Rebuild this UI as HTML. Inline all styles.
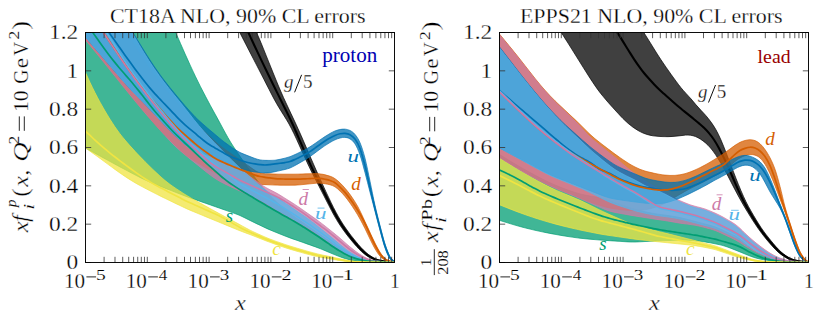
<!DOCTYPE html>
<html><head><meta charset="utf-8"><title>PDF comparison</title>
<style>html,body{margin:0;padding:0;background:#fff;overflow:hidden}svg{display:block}text{font-family:"Liberation Serif",serif}.thin text{stroke:#fff;stroke-width:0.28px}.thin text[fill]{stroke:none}</style></head>
<body>
<svg width="831" height="318" viewBox="0 0 831 318" font-family="'Liberation Serif', serif" fill="#000">
<rect width="831" height="318" fill="#fff"/>
<defs><clipPath id="cl"><rect x="85.5" y="32.5" width="309" height="230"/></clipPath><clipPath id="cr"><rect x="499.5" y="32.5" width="309" height="230"/></clipPath></defs>
<g clip-path="url(#cl)"><path d="M251.00 21.01C251.83 22.71 254.33 27.58 256.00 31.21C257.67 34.84 259.33 38.78 261.00 42.77C262.67 46.76 264.33 51.00 266.00 55.14C267.67 59.27 269.33 63.44 271.00 67.57C272.67 71.70 274.33 75.88 276.00 79.93C277.67 83.98 279.33 88.01 281.00 91.85C282.67 95.69 284.33 99.32 286.00 102.94C287.67 106.57 289.33 110.08 291.00 113.62C292.67 117.16 294.33 120.58 296.00 124.19C297.67 127.80 299.33 131.53 301.00 135.30C302.67 139.08 304.33 142.99 306.00 146.84C307.67 150.69 309.33 154.58 311.00 158.41C312.67 162.25 314.33 166.10 316.00 169.86C317.67 173.62 319.33 177.32 321.00 180.99C322.67 184.66 324.33 188.31 326.00 191.88C327.67 195.44 329.33 199.00 331.00 202.40C332.67 205.81 334.33 209.21 336.00 212.31C337.67 215.42 339.33 218.31 341.00 221.03C342.67 223.75 344.33 226.22 346.00 228.62C347.67 231.02 349.33 233.25 351.00 235.43C352.67 237.61 354.33 239.67 356.00 241.68C357.67 243.69 359.33 245.70 361.00 247.49C362.67 249.29 364.33 251.00 366.00 252.46C367.67 253.92 369.33 255.18 371.00 256.25C372.67 257.33 374.33 258.22 376.00 258.92C377.67 259.61 379.33 260.06 381.00 260.44C382.67 260.82 384.33 261.00 386.00 261.22C387.67 261.45 389.50 261.61 391.00 261.77C392.50 261.93 394.33 262.13 395.00 262.20L395.00 262.60C394.83 262.59 395.00 262.60 394.00 262.51C393.00 262.43 390.67 262.23 389.00 262.09C387.33 261.94 385.67 261.83 384.00 261.64C382.33 261.45 380.67 261.28 379.00 260.95C377.33 260.61 375.67 260.25 374.00 259.62C372.33 258.99 370.67 258.16 369.00 257.17C367.33 256.19 365.67 255.04 364.00 253.70C362.33 252.36 360.67 250.79 359.00 249.11C357.33 247.43 355.67 245.53 354.00 243.61C352.33 241.68 350.67 239.66 349.00 237.55C347.33 235.44 345.67 233.27 344.00 230.95C342.33 228.63 340.67 226.24 339.00 223.63C337.33 221.02 335.67 218.24 334.00 215.27C332.33 212.30 330.67 209.01 329.00 205.80C327.33 202.58 325.67 199.22 324.00 195.97C322.33 192.71 320.67 189.49 319.00 186.27C317.33 183.05 315.67 179.93 314.00 176.64C312.33 173.35 310.67 170.02 309.00 166.53C307.33 163.04 305.67 159.33 304.00 155.70C302.33 152.06 300.67 148.35 299.00 144.70C297.33 141.05 295.67 137.26 294.00 133.81C292.33 130.36 290.67 127.01 289.00 123.99C287.33 120.97 285.67 118.42 284.00 115.70C282.33 112.98 280.67 110.47 279.00 107.67C277.33 104.87 275.67 101.97 274.00 98.91C272.33 95.84 270.67 92.50 269.00 89.26C267.33 86.03 265.67 82.74 264.00 79.50C262.33 76.26 260.67 73.03 259.00 69.80C257.33 66.57 255.67 63.34 254.00 60.11C252.33 56.89 250.67 53.66 249.00 50.43C247.33 47.20 245.67 43.99 244.00 40.74C242.33 37.49 240.67 34.24 239.00 30.95C237.33 27.66 234.83 22.66 234.00 21.00Z" fill="#000000" fill-opacity="0.75" stroke="#000000" stroke-opacity="0.75" stroke-width="0.9" stroke-linejoin="round"/>
<path d="M243.00 21.00C243.83 22.79 246.33 28.14 248.00 31.72C249.67 35.30 251.33 38.88 253.00 42.46C254.67 46.03 256.33 49.63 258.00 53.16C259.67 56.69 261.33 60.19 263.00 63.65C264.67 67.12 266.33 70.54 268.00 73.97C269.67 77.39 271.33 80.81 273.00 84.22C274.67 87.62 276.33 91.02 278.00 94.39C279.67 97.76 281.33 101.11 283.00 104.46C284.67 107.81 286.33 111.07 288.00 114.48C289.67 117.90 291.33 121.34 293.00 124.98C294.67 128.61 296.33 132.50 298.00 136.32C299.67 140.13 301.33 144.07 303.00 147.89C304.67 151.71 306.33 155.52 308.00 159.23C309.67 162.94 311.33 166.64 313.00 170.15C314.67 173.65 316.33 176.93 318.00 180.26C319.67 183.58 321.33 186.79 323.00 190.10C324.67 193.41 326.33 196.80 328.00 200.12C329.67 203.44 331.33 206.89 333.00 210.05C334.67 213.21 336.33 216.26 338.00 219.08C339.67 221.89 341.33 224.45 343.00 226.92C344.67 229.39 346.33 231.67 348.00 233.89C349.67 236.11 351.33 238.21 353.00 240.25C354.67 242.29 356.33 244.27 358.00 246.12C359.67 247.96 361.33 249.79 363.00 251.33C364.67 252.87 366.33 254.19 368.00 255.37C369.67 256.54 371.33 257.59 373.00 258.40C374.67 259.21 376.33 259.75 378.00 260.21C379.67 260.68 381.33 260.93 383.00 261.19C384.67 261.44 386.33 261.56 388.00 261.73C389.67 261.90 391.83 262.10 393.00 262.21C394.17 262.32 394.67 262.37 395.00 262.40" fill="none" stroke="#000000" stroke-width="2.10" stroke-linejoin="round" stroke-linecap="butt"/>
<path d="M165.50 10.01C166.33 11.85 168.83 17.34 170.50 21.02C172.17 24.71 173.83 28.38 175.50 32.12C177.17 35.86 178.83 39.68 180.50 43.47C182.17 47.26 183.83 51.13 185.50 54.87C187.17 58.60 188.83 62.27 190.50 65.88C192.17 69.49 193.83 73.09 195.50 76.55C197.17 80.02 198.83 83.39 200.50 86.69C202.17 89.98 203.83 93.16 205.50 96.34C207.17 99.52 208.83 102.67 210.50 105.75C212.17 108.83 213.83 111.80 215.50 114.84C217.17 117.88 218.83 120.93 220.50 124.00C222.17 127.08 223.83 130.30 225.50 133.29C227.17 136.29 228.83 139.23 230.50 141.97C232.17 144.72 233.83 147.21 235.50 149.74C237.17 152.26 238.83 154.70 240.50 157.12C242.17 159.54 243.83 161.88 245.50 164.25C247.17 166.61 248.83 168.98 250.50 171.32C252.17 173.67 253.83 176.09 255.50 178.32C257.17 180.54 258.83 182.67 260.50 184.68C262.17 186.69 263.83 188.50 265.50 190.38C267.17 192.26 268.83 194.15 270.50 195.93C272.17 197.72 273.83 199.49 275.50 201.09C277.17 202.69 278.83 204.08 280.50 205.51C282.17 206.94 283.83 208.28 285.50 209.64C287.17 211.01 288.83 212.39 290.50 213.68C292.17 214.97 293.83 216.18 295.50 217.38C297.17 218.57 298.83 219.69 300.50 220.84C302.17 222.00 303.83 223.13 305.50 224.29C307.17 225.44 308.83 226.61 310.50 227.77C312.17 228.94 313.83 230.12 315.50 231.29C317.17 232.47 318.83 233.65 320.50 234.82C322.17 236.00 323.83 237.18 325.50 238.37C327.17 239.56 328.83 240.76 330.50 241.95C332.17 243.15 333.83 244.37 335.50 245.53C337.17 246.69 338.83 247.87 340.50 248.90C342.17 249.93 343.83 250.83 345.50 251.72C347.17 252.61 348.83 253.43 350.50 254.24C352.17 255.06 353.83 255.91 355.50 256.61C357.17 257.32 358.83 257.92 360.50 258.48C362.17 259.04 363.83 259.53 365.50 259.96C367.17 260.39 368.83 260.81 370.50 261.07C372.17 261.34 373.83 261.43 375.50 261.55C377.17 261.67 378.83 261.72 380.50 261.80C382.17 261.89 383.83 261.96 385.50 262.04C387.17 262.12 389.00 262.21 390.50 262.28C392.00 262.36 393.83 262.44 394.50 262.48L395.00 262.60C394.17 262.58 391.67 262.52 390.00 262.49C388.33 262.45 386.67 262.41 385.00 262.37C383.33 262.33 381.67 262.30 380.00 262.26C378.33 262.22 376.67 262.18 375.00 262.14C373.33 262.10 371.67 262.07 370.00 262.03C368.33 261.99 366.67 261.97 365.00 261.90C363.33 261.83 361.67 261.76 360.00 261.59C358.33 261.42 356.67 261.17 355.00 260.89C353.33 260.60 351.67 260.29 350.00 259.90C348.33 259.51 346.67 259.04 345.00 258.53C343.33 258.01 341.67 257.42 340.00 256.81C338.33 256.19 336.67 255.52 335.00 254.84C333.33 254.17 331.67 253.45 330.00 252.75C328.33 252.05 326.67 251.33 325.00 250.63C323.33 249.94 321.67 249.23 320.00 248.58C318.33 247.93 316.67 247.32 315.00 246.71C313.33 246.10 311.67 245.51 310.00 244.92C308.33 244.33 306.67 243.73 305.00 243.15C303.33 242.56 301.67 241.98 300.00 241.40C298.33 240.81 296.67 240.23 295.00 239.65C293.33 239.06 291.67 238.49 290.00 237.88C288.33 237.27 286.67 236.64 285.00 235.99C283.33 235.34 281.67 234.66 280.00 233.99C278.33 233.32 276.67 232.65 275.00 231.96C273.33 231.28 271.67 230.61 270.00 229.89C268.33 229.17 266.67 228.40 265.00 227.63C263.33 226.86 261.67 226.05 260.00 225.26C258.33 224.47 256.67 223.68 255.00 222.88C253.33 222.07 251.67 221.27 250.00 220.44C248.33 219.62 246.67 218.73 245.00 217.91C243.33 217.09 241.67 216.25 240.00 215.52C238.33 214.80 236.67 214.19 235.00 213.56C233.33 212.94 231.67 212.39 230.00 211.80C228.33 211.21 226.67 210.63 225.00 210.05C223.33 209.47 221.67 208.88 220.00 208.30C218.33 207.72 216.67 207.13 215.00 206.55C213.33 205.97 211.67 205.38 210.00 204.80C208.33 204.22 206.67 203.63 205.00 203.05C203.33 202.47 201.67 201.88 200.00 201.30C198.33 200.72 196.67 200.13 195.00 199.55C193.33 198.97 191.67 198.39 190.00 197.79C188.33 197.19 186.67 196.59 185.00 195.97C183.33 195.34 181.67 194.69 180.00 194.04C178.33 193.39 176.67 192.73 175.00 192.08C173.33 191.43 171.67 190.77 170.00 190.12C168.33 189.47 166.67 188.81 165.00 188.16C163.33 187.50 161.67 186.85 160.00 186.19C158.33 185.53 156.67 184.87 155.00 184.19C153.33 183.51 151.67 182.83 150.00 182.11C148.33 181.39 146.67 180.65 145.00 179.87C143.33 179.09 141.67 178.26 140.00 177.43C138.33 176.60 136.67 175.73 135.00 174.86C133.33 173.99 131.67 173.11 130.00 172.23C128.33 171.35 126.67 170.47 125.00 169.58C123.33 168.70 121.67 167.81 120.00 166.91C118.33 166.02 116.67 165.12 115.00 164.22C113.33 163.32 111.67 162.41 110.00 161.49C108.33 160.58 106.67 159.66 105.00 158.75C103.33 157.83 101.67 156.91 100.00 155.99C98.33 155.08 96.67 154.16 95.00 153.24C93.33 152.32 91.67 151.40 90.00 150.49C88.33 149.57 86.67 148.66 85.00 147.74C83.33 146.83 80.83 145.46 80.00 145.00L80.00 10.00Z" fill="#009E73" fill-opacity="0.75" stroke="#009E73" stroke-opacity="0.75" stroke-width="0.9" stroke-linejoin="round"/>
<path d="M80.00 60.24C80.83 62.11 83.33 67.77 85.00 71.47C86.67 75.16 88.33 78.87 90.00 82.41C91.67 85.94 93.33 89.39 95.00 92.68C96.67 95.97 98.33 99.11 100.00 102.16C101.67 105.21 103.33 108.12 105.00 110.97C106.67 113.82 108.33 116.59 110.00 119.26C111.67 121.92 113.33 124.51 115.00 126.95C116.67 129.38 118.33 131.69 120.00 133.88C121.67 136.06 123.33 138.08 125.00 140.07C126.67 142.06 128.33 143.94 130.00 145.81C131.67 147.68 133.33 149.51 135.00 151.31C136.67 153.11 138.33 154.88 140.00 156.61C141.67 158.35 143.33 160.04 145.00 161.71C146.67 163.39 148.33 165.03 150.00 166.65C151.67 168.28 153.33 169.90 155.00 171.48C156.67 173.06 158.33 174.64 160.00 176.15C161.67 177.65 163.33 179.12 165.00 180.50C166.67 181.88 168.33 183.17 170.00 184.40C171.67 185.64 173.33 186.77 175.00 187.90C176.67 189.04 178.33 190.11 180.00 191.20C181.67 192.29 183.33 193.38 185.00 194.43C186.67 195.47 188.33 196.48 190.00 197.45C191.67 198.42 193.33 199.32 195.00 200.25C196.67 201.17 198.33 202.08 200.00 203.00C201.67 203.92 203.33 204.83 205.00 205.75C206.67 206.67 208.33 207.58 210.00 208.50C211.67 209.42 213.33 210.34 215.00 211.25C216.67 212.16 218.33 213.08 220.00 213.98C221.67 214.88 223.33 215.78 225.00 216.67C226.67 217.57 228.33 218.46 230.00 219.35C231.67 220.24 233.33 221.13 235.00 222.03C236.67 222.92 238.33 223.82 240.00 224.73C241.67 225.64 243.33 226.59 245.00 227.49C246.67 228.40 248.33 229.31 250.00 230.15C251.67 231.00 253.33 231.77 255.00 232.54C256.67 233.31 258.33 234.05 260.00 234.80C261.67 235.55 263.33 236.31 265.00 237.03C266.67 237.75 268.33 238.46 270.00 239.11C271.67 239.77 273.33 240.34 275.00 240.94C276.67 241.54 278.33 242.11 280.00 242.70C281.67 243.28 283.33 243.87 285.00 244.43C286.67 244.99 288.33 245.53 290.00 246.06C291.67 246.58 293.33 247.06 295.00 247.56C296.67 248.06 298.33 248.55 300.00 249.04C301.67 249.53 303.33 250.03 305.00 250.51C306.67 250.98 308.33 251.45 310.00 251.91C311.67 252.36 313.33 252.82 315.00 253.25C316.67 253.69 318.33 254.12 320.00 254.51C321.67 254.89 323.33 255.21 325.00 255.55C326.67 255.89 328.33 256.21 330.00 256.56C331.67 256.92 333.33 257.31 335.00 257.68C336.67 258.05 338.33 258.44 340.00 258.80C341.67 259.16 343.33 259.52 345.00 259.85C346.67 260.18 348.33 260.54 350.00 260.79C351.67 261.03 353.33 261.21 355.00 261.33C356.67 261.45 358.33 261.47 360.00 261.52C361.67 261.58 363.33 261.62 365.00 261.66C366.67 261.71 368.33 261.76 370.00 261.80C371.67 261.85 373.33 261.90 375.00 261.94C376.67 261.99 378.33 262.03 380.00 262.08C381.67 262.13 383.33 262.17 385.00 262.22C386.67 262.27 388.33 262.31 390.00 262.36C391.67 262.41 394.17 262.48 395.00 262.50L395.00 262.60C394.17 262.59 391.67 262.57 390.00 262.55C388.33 262.54 386.67 262.52 385.00 262.51C383.33 262.49 381.67 262.48 380.00 262.46C378.33 262.44 376.67 262.43 375.00 262.41C373.33 262.40 371.67 262.38 370.00 262.37C368.33 262.35 366.67 262.34 365.00 262.32C363.33 262.31 361.67 262.30 360.00 262.27C358.33 262.25 356.67 262.26 355.00 262.19C353.33 262.12 351.67 262.02 350.00 261.87C348.33 261.72 346.67 261.50 345.00 261.29C343.33 261.07 341.67 260.85 340.00 260.59C338.33 260.34 336.67 260.04 335.00 259.75C333.33 259.46 331.67 259.14 330.00 258.87C328.33 258.59 326.67 258.36 325.00 258.10C323.33 257.83 321.67 257.59 320.00 257.27C318.33 256.94 316.67 256.53 315.00 256.12C313.33 255.72 311.67 255.29 310.00 254.85C308.33 254.42 306.67 253.98 305.00 253.52C303.33 253.06 301.67 252.59 300.00 252.11C298.33 251.64 296.67 251.17 295.00 250.68C293.33 250.20 291.67 249.74 290.00 249.23C288.33 248.72 286.67 248.18 285.00 247.63C283.33 247.07 281.67 246.48 280.00 245.90C278.33 245.31 276.67 244.73 275.00 244.14C273.33 243.55 271.67 242.97 270.00 242.35C268.33 241.74 266.67 241.09 265.00 240.45C263.33 239.80 261.67 239.13 260.00 238.47C258.33 237.81 256.67 237.14 255.00 236.49C253.33 235.83 251.67 235.18 250.00 234.55C248.33 233.92 246.67 233.33 245.00 232.71C243.33 232.08 241.67 231.46 240.00 230.81C238.33 230.15 236.67 229.46 235.00 228.77C233.33 228.09 231.67 227.40 230.00 226.71C228.33 226.02 226.67 225.33 225.00 224.65C223.33 223.96 221.67 223.27 220.00 222.58C218.33 221.89 216.67 221.21 215.00 220.52C213.33 219.83 211.67 219.14 210.00 218.46C208.33 217.77 206.67 217.08 205.00 216.40C203.33 215.71 201.67 215.02 200.00 214.34C198.33 213.65 196.67 212.97 195.00 212.28C193.33 211.59 191.67 210.91 190.00 210.19C188.33 209.47 186.67 208.72 185.00 207.95C183.33 207.18 181.67 206.36 180.00 205.57C178.33 204.77 176.67 203.97 175.00 203.18C173.33 202.38 171.67 201.58 170.00 200.78C168.33 199.97 166.67 199.17 165.00 198.36C163.33 197.54 161.67 196.72 160.00 195.89C158.33 195.06 156.67 194.22 155.00 193.37C153.33 192.52 151.67 191.67 150.00 190.80C148.33 189.94 146.67 189.08 145.00 188.20C143.33 187.33 141.67 186.45 140.00 185.54C138.33 184.63 136.67 183.71 135.00 182.74C133.33 181.77 131.67 180.76 130.00 179.71C128.33 178.67 126.67 177.57 125.00 176.46C123.33 175.35 121.67 174.20 120.00 173.03C118.33 171.87 116.67 170.68 115.00 169.47C113.33 168.27 111.67 167.04 110.00 165.81C108.33 164.58 106.67 163.34 105.00 162.11C103.33 160.87 101.67 159.64 100.00 158.42C98.33 157.20 96.67 156.00 95.00 154.79C93.33 153.59 91.67 152.39 90.00 151.19C88.33 149.99 86.67 148.80 85.00 147.60C83.33 146.40 80.83 144.59 80.00 143.99Z" fill="#F0E442" fill-opacity="0.75" stroke="#F0E442" stroke-opacity="0.75" stroke-width="0.9" stroke-linejoin="round"/>
<path d="M118.00 20.05C118.83 21.29 121.33 24.98 123.00 27.50C124.67 30.03 126.33 32.60 128.00 35.22C129.67 37.85 131.33 40.55 133.00 43.24C134.67 45.93 136.33 48.69 138.00 51.36C139.67 54.04 141.33 56.71 143.00 59.29C144.67 61.87 146.33 64.39 148.00 66.83C149.67 69.27 151.33 71.64 153.00 73.93C154.67 76.23 156.33 78.44 158.00 80.60C159.67 82.75 161.33 84.82 163.00 86.86C164.67 88.91 166.33 90.88 168.00 92.86C169.67 94.84 171.33 96.79 173.00 98.73C174.67 100.67 176.33 102.64 178.00 104.50C179.67 106.37 181.33 108.17 183.00 109.92C184.67 111.67 186.33 113.32 188.00 115.00C189.67 116.68 191.33 118.34 193.00 120.00C194.67 121.66 196.33 123.33 198.00 124.98C199.67 126.63 201.33 128.26 203.00 129.88C204.67 131.50 206.33 133.10 208.00 134.70C209.67 136.30 211.33 137.94 213.00 139.50C214.67 141.06 216.33 142.65 218.00 144.05C219.67 145.46 221.33 146.71 223.00 147.94C224.67 149.18 226.33 150.29 228.00 151.45C229.67 152.62 231.33 153.77 233.00 154.92C234.67 156.08 236.33 157.23 238.00 158.39C239.67 159.56 241.33 160.72 243.00 161.90C244.67 163.08 246.33 164.29 248.00 165.49C249.67 166.69 251.33 167.98 253.00 169.09C254.67 170.21 256.33 171.46 258.00 172.19C259.67 172.93 261.33 173.23 263.00 173.49C264.67 173.76 266.33 173.70 268.00 173.79C269.67 173.87 271.33 173.94 273.00 174.00C274.67 174.06 276.33 174.12 278.00 174.15C279.67 174.18 281.33 174.19 283.00 174.20C284.67 174.20 286.33 174.20 288.00 174.20C289.67 174.20 291.33 174.20 293.00 174.19C294.67 174.18 296.33 174.16 298.00 174.13C299.67 174.09 301.33 174.03 303.00 173.98C304.67 173.93 306.33 173.87 308.00 173.81C309.67 173.75 311.33 173.67 313.00 173.64C314.67 173.62 316.33 173.52 318.00 173.64C319.67 173.75 321.33 174.00 323.00 174.33C324.67 174.66 326.33 175.10 328.00 175.62C329.67 176.14 331.33 176.55 333.00 177.45C334.67 178.35 336.33 179.62 338.00 181.03C339.67 182.45 341.33 184.13 343.00 185.93C344.67 187.73 346.33 189.69 348.00 191.83C349.67 193.98 351.33 196.30 353.00 198.82C354.67 201.35 356.33 203.92 358.00 206.98C359.67 210.05 361.33 213.70 363.00 217.22C364.67 220.73 366.33 224.47 368.00 228.08C369.67 231.70 371.33 235.47 373.00 238.93C374.67 242.40 376.33 245.98 378.00 248.88C379.67 251.78 381.33 254.43 383.00 256.33C384.67 258.23 386.33 259.36 388.00 260.28C389.67 261.21 391.83 261.53 393.00 261.86C394.17 262.20 394.67 262.22 395.00 262.30L395.00 262.50C394.17 262.37 391.67 262.14 390.00 261.75C388.33 261.37 386.67 261.14 385.00 260.20C383.33 259.26 381.67 258.01 380.00 256.10C378.33 254.20 376.67 251.62 375.00 248.77C373.33 245.93 371.67 242.39 370.00 239.03C368.33 235.67 366.67 231.97 365.00 228.62C363.33 225.28 361.67 222.00 360.00 218.99C358.33 215.98 356.67 213.23 355.00 210.58C353.33 207.92 351.67 205.41 350.00 203.05C348.33 200.70 346.67 198.43 345.00 196.43C343.33 194.43 341.67 192.66 340.00 191.06C338.33 189.46 336.67 187.89 335.00 186.84C333.33 185.79 331.67 185.28 330.00 184.76C328.33 184.25 326.67 184.02 325.00 183.75C323.33 183.48 321.67 183.21 320.00 183.14C318.33 183.07 316.67 183.22 315.00 183.33C313.33 183.44 311.67 183.66 310.00 183.83C308.33 183.99 306.67 184.17 305.00 184.34C303.33 184.50 301.67 184.69 300.00 184.83C298.33 184.96 296.67 185.07 295.00 185.14C293.33 185.20 291.67 185.19 290.00 185.20C288.33 185.21 286.67 185.20 285.00 185.20C283.33 185.20 281.67 185.20 280.00 185.18C278.33 185.16 276.67 185.12 275.00 185.06C273.33 185.01 271.67 184.92 270.00 184.85C268.33 184.78 266.67 184.70 265.00 184.64C263.33 184.57 261.67 184.52 260.00 184.46C258.33 184.41 256.67 184.36 255.00 184.31C253.33 184.25 251.67 184.24 250.00 184.14C248.33 184.04 246.67 183.96 245.00 183.71C243.33 183.45 241.67 183.01 240.00 182.60C238.33 182.18 236.67 181.69 235.00 181.22C233.33 180.75 231.67 180.34 230.00 179.77C228.33 179.21 226.67 178.58 225.00 177.84C223.33 177.10 221.67 176.18 220.00 175.32C218.33 174.47 216.67 173.58 215.00 172.70C213.33 171.82 211.67 170.96 210.00 170.05C208.33 169.14 206.67 168.22 205.00 167.26C203.33 166.30 201.67 165.29 200.00 164.30C198.33 163.31 196.67 162.32 195.00 161.30C193.33 160.28 191.67 159.34 190.00 158.18C188.33 157.02 186.67 155.77 185.00 154.36C183.33 152.95 181.67 151.31 180.00 149.74C178.33 148.17 176.67 146.55 175.00 144.94C173.33 143.34 171.67 141.73 170.00 140.09C168.33 138.45 166.67 136.81 165.00 135.09C163.33 133.38 161.67 131.63 160.00 129.83C158.33 128.02 156.67 126.15 155.00 124.25C153.33 122.36 151.67 120.41 150.00 118.46C148.33 116.51 146.67 114.53 145.00 112.55C143.33 110.57 141.67 108.58 140.00 106.57C138.33 104.56 136.67 102.55 135.00 100.52C133.33 98.49 131.67 96.44 130.00 94.40C128.33 92.35 126.67 90.29 125.00 88.23C123.33 86.16 121.67 84.09 120.00 82.02C118.33 79.94 116.67 77.86 115.00 75.78C113.33 73.70 111.67 71.61 110.00 69.53C108.33 67.45 106.67 65.37 105.00 63.30C103.33 61.24 101.67 59.18 100.00 57.13C98.33 55.08 96.67 53.04 95.00 51.01C93.33 48.98 91.67 46.96 90.00 44.95C88.33 42.94 86.67 40.94 85.00 38.96C83.33 36.97 80.83 34.02 80.00 33.03L80.00 10.00Z" fill="#D55E00" fill-opacity="0.75" stroke="#D55E00" stroke-opacity="0.75" stroke-width="0.9" stroke-linejoin="round"/>
<path d="M124.00 20.05C124.83 21.35 127.33 25.19 129.00 27.82C130.67 30.45 132.33 33.12 134.00 35.83C135.67 38.53 137.33 41.31 139.00 44.06C140.67 46.81 142.33 49.61 144.00 52.31C145.67 55.02 147.33 57.71 149.00 60.30C150.67 62.89 152.33 65.41 154.00 67.86C155.67 70.31 157.33 72.69 159.00 75.01C160.67 77.34 162.33 79.60 164.00 81.83C165.67 84.06 167.33 86.23 169.00 88.39C170.67 90.55 172.33 92.67 174.00 94.80C175.67 96.92 177.33 99.03 179.00 101.14C180.67 103.25 182.33 105.36 184.00 107.48C185.67 109.60 187.33 111.74 189.00 113.86C190.67 115.99 192.33 118.16 194.00 120.23C195.67 122.29 197.33 124.30 199.00 126.25C200.67 128.21 202.33 130.07 204.00 131.95C205.67 133.82 207.33 135.70 209.00 137.49C210.67 139.27 212.33 140.95 214.00 142.66C215.67 144.36 217.33 146.00 219.00 147.71C220.67 149.42 222.33 151.22 224.00 152.91C225.67 154.61 227.33 156.24 229.00 157.88C230.67 159.51 232.33 161.12 234.00 162.74C235.67 164.36 237.33 166.05 239.00 167.58C240.67 169.10 242.33 170.52 244.00 171.88C245.67 173.24 247.33 174.47 249.00 175.73C250.67 176.98 252.33 178.21 254.00 179.43C255.67 180.64 257.33 181.86 259.00 183.03C260.67 184.19 262.33 185.38 264.00 186.41C265.67 187.45 267.33 188.33 269.00 189.23C270.67 190.12 272.33 190.89 274.00 191.78C275.67 192.66 277.33 193.56 279.00 194.54C280.67 195.51 282.33 196.59 284.00 197.63C285.67 198.67 287.33 199.74 289.00 200.79C290.67 201.84 292.33 202.85 294.00 203.93C295.67 205.01 297.33 206.11 299.00 207.25C300.67 208.38 302.33 209.58 304.00 210.75C305.67 211.92 307.33 213.11 309.00 214.28C310.67 215.45 312.33 216.61 314.00 217.79C315.67 218.98 317.33 220.15 319.00 221.38C320.67 222.62 322.33 223.91 324.00 225.21C325.67 226.51 327.33 227.85 329.00 229.18C330.67 230.51 332.33 231.83 334.00 233.19C335.67 234.55 337.33 235.90 339.00 237.32C340.67 238.74 342.33 240.25 344.00 241.70C345.67 243.16 347.33 244.65 349.00 246.06C350.67 247.46 352.33 248.83 354.00 250.11C355.67 251.39 357.33 252.63 359.00 253.74C360.67 254.86 362.33 255.90 364.00 256.81C365.67 257.71 367.33 258.53 369.00 259.15C370.67 259.78 372.33 260.21 374.00 260.57C375.67 260.92 377.33 261.10 379.00 261.29C380.67 261.47 382.33 261.56 384.00 261.69C385.67 261.82 387.33 261.93 389.00 262.06C390.67 262.18 393.00 262.35 394.00 262.43C395.00 262.50 394.83 262.49 395.00 262.50L395.00 262.50C394.17 262.47 391.67 262.37 390.00 262.30C388.33 262.24 386.67 262.17 385.00 262.11C383.33 262.04 381.67 261.98 380.00 261.91C378.33 261.85 376.67 261.79 375.00 261.71C373.33 261.64 371.67 261.61 370.00 261.45C368.33 261.29 366.67 261.08 365.00 260.76C363.33 260.44 361.67 260.00 360.00 259.52C358.33 259.04 356.67 258.49 355.00 257.88C353.33 257.27 351.67 256.61 350.00 255.86C348.33 255.11 346.67 254.29 345.00 253.38C343.33 252.48 341.67 251.51 340.00 250.44C338.33 249.36 336.67 248.14 335.00 246.93C333.33 245.72 331.67 244.38 330.00 243.16C328.33 241.95 326.67 240.78 325.00 239.62C323.33 238.47 321.67 237.34 320.00 236.23C318.33 235.12 316.67 234.01 315.00 232.95C313.33 231.88 311.67 230.86 310.00 229.83C308.33 228.80 306.67 227.79 305.00 226.77C303.33 225.76 301.67 224.73 300.00 223.73C298.33 222.74 296.67 221.76 295.00 220.81C293.33 219.85 291.67 218.93 290.00 218.00C288.33 217.07 286.67 216.15 285.00 215.22C283.33 214.29 281.67 213.37 280.00 212.44C278.33 211.51 276.67 210.57 275.00 209.63C273.33 208.69 271.67 207.74 270.00 206.79C268.33 205.85 266.67 204.90 265.00 203.96C263.33 203.03 261.67 202.08 260.00 201.18C258.33 200.28 256.67 199.41 255.00 198.55C253.33 197.69 251.67 196.87 250.00 196.03C248.33 195.19 246.67 194.35 245.00 193.52C243.33 192.69 241.67 191.86 240.00 191.06C238.33 190.27 236.67 189.50 235.00 188.73C233.33 187.95 231.67 187.20 230.00 186.41C228.33 185.62 226.67 184.82 225.00 183.99C223.33 183.16 221.67 182.35 220.00 181.42C218.33 180.48 216.67 179.47 215.00 178.38C213.33 177.29 211.67 176.11 210.00 174.87C208.33 173.63 206.67 172.27 205.00 170.94C203.33 169.61 201.67 168.22 200.00 166.88C198.33 165.53 196.67 164.21 195.00 162.88C193.33 161.54 191.67 160.22 190.00 158.88C188.33 157.54 186.67 156.21 185.00 154.83C183.33 153.45 181.67 152.08 180.00 150.61C178.33 149.14 176.67 147.62 175.00 146.01C173.33 144.39 171.67 142.65 170.00 140.90C168.33 139.16 166.67 137.37 165.00 135.56C163.33 133.76 161.67 131.93 160.00 130.08C158.33 128.24 156.67 126.37 155.00 124.49C153.33 122.61 151.67 120.71 150.00 118.79C148.33 116.87 146.67 114.93 145.00 112.98C143.33 111.02 141.67 109.04 140.00 107.04C138.33 105.05 136.67 103.03 135.00 101.01C133.33 98.98 131.67 96.94 130.00 94.89C128.33 92.85 126.67 90.79 125.00 88.73C123.33 86.66 121.67 84.59 120.00 82.52C118.33 80.44 116.67 78.36 115.00 76.28C113.33 74.20 111.67 72.11 110.00 70.03C108.33 67.95 106.67 65.87 105.00 63.80C103.33 61.74 101.67 59.68 100.00 57.63C98.33 55.58 96.67 53.54 95.00 51.51C93.33 49.48 91.67 47.46 90.00 45.45C88.33 43.44 86.67 41.44 85.00 39.46C83.33 37.47 80.83 34.52 80.00 33.53L80.00 10.00Z" fill="#CC79A7" fill-opacity="0.75" stroke="#CC79A7" stroke-opacity="0.75" stroke-width="0.9" stroke-linejoin="round"/>
<path d="M125.00 20.03C125.83 21.35 128.33 25.26 130.00 27.91C131.67 30.56 133.33 33.24 135.00 35.93C136.67 38.63 138.33 41.37 140.00 44.08C141.67 46.80 143.33 49.54 145.00 52.21C146.67 54.88 148.33 57.53 150.00 60.09C151.67 62.65 153.33 65.15 155.00 67.58C156.67 70.01 158.33 72.36 160.00 74.66C161.67 76.95 163.33 79.17 165.00 81.34C166.67 83.51 168.33 85.60 170.00 87.67C171.67 89.74 173.33 91.75 175.00 93.77C176.67 95.79 178.33 97.80 180.00 99.79C181.67 101.77 183.33 103.77 185.00 105.70C186.67 107.62 188.33 109.50 190.00 111.34C191.67 113.18 193.33 115.02 195.00 116.72C196.67 118.42 198.33 120.01 200.00 121.54C201.67 123.08 203.33 124.48 205.00 125.93C206.67 127.37 208.33 128.80 210.00 130.22C211.67 131.64 213.33 133.04 215.00 134.45C216.67 135.85 218.33 137.27 220.00 138.63C221.67 139.98 223.33 141.33 225.00 142.59C226.67 143.85 228.33 145.02 230.00 146.19C231.67 147.36 233.33 148.56 235.00 149.61C236.67 150.66 238.33 151.64 240.00 152.48C241.67 153.31 243.33 153.92 245.00 154.61C246.67 155.29 248.33 155.91 250.00 156.56C251.67 157.20 253.33 157.91 255.00 158.47C256.67 159.02 258.33 159.59 260.00 159.91C261.67 160.22 263.33 160.27 265.00 160.35C266.67 160.44 268.33 160.44 270.00 160.42C271.67 160.40 273.33 160.39 275.00 160.21C276.67 160.02 278.33 159.66 280.00 159.32C281.67 158.98 283.33 158.59 285.00 158.15C286.67 157.72 288.33 157.30 290.00 156.70C291.67 156.11 293.33 155.32 295.00 154.57C296.67 153.81 298.33 152.97 300.00 152.16C301.67 151.35 303.33 150.59 305.00 149.70C306.67 148.81 308.33 147.88 310.00 146.83C311.67 145.79 313.33 144.59 315.00 143.44C316.67 142.29 318.33 141.08 320.00 139.93C321.67 138.78 323.33 137.63 325.00 136.56C326.67 135.48 328.33 134.43 330.00 133.49C331.67 132.56 333.33 131.61 335.00 130.95C336.67 130.28 338.33 129.80 340.00 129.50C341.67 129.20 343.33 128.97 345.00 129.14C346.67 129.30 348.33 129.59 350.00 130.47C351.67 131.35 353.33 132.36 355.00 134.40C356.67 136.44 358.33 138.74 360.00 142.70C361.67 146.67 363.33 151.77 365.00 158.20C366.67 164.63 368.33 173.42 370.00 181.28C371.67 189.14 373.33 197.97 375.00 205.37C376.67 212.76 378.33 219.22 380.00 225.66C381.67 232.09 383.33 238.77 385.00 243.96C386.67 249.14 388.33 253.75 390.00 256.78C391.67 259.80 394.17 261.20 395.00 262.09L395.00 262.37C394.17 261.77 391.67 261.15 390.00 258.74C388.33 256.32 386.67 252.60 385.00 247.86C383.33 243.13 381.67 236.41 380.00 230.32C378.33 224.22 376.67 217.65 375.00 211.29C373.33 204.92 371.67 198.57 370.00 192.13C368.33 185.69 366.67 178.81 365.00 172.63C363.33 166.44 361.67 159.80 360.00 155.00C358.33 150.21 356.67 146.54 355.00 143.86C353.33 141.18 351.67 140.01 350.00 138.93C348.33 137.85 346.67 137.53 345.00 137.38C343.33 137.22 341.67 137.61 340.00 138.02C338.33 138.43 336.67 139.09 335.00 139.83C333.33 140.58 331.67 141.53 330.00 142.49C328.33 143.45 326.67 144.50 325.00 145.61C323.33 146.73 321.67 147.95 320.00 149.17C318.33 150.38 316.67 151.68 315.00 152.92C313.33 154.15 311.67 155.43 310.00 156.58C308.33 157.73 306.67 158.78 305.00 159.80C303.33 160.82 301.67 161.74 300.00 162.69C298.33 163.65 296.67 164.64 295.00 165.53C293.33 166.41 291.67 167.33 290.00 167.99C288.33 168.64 286.67 169.05 285.00 169.48C283.33 169.92 281.67 170.24 280.00 170.61C278.33 170.98 276.67 171.36 275.00 171.71C273.33 172.05 271.67 172.45 270.00 172.66C268.33 172.86 266.67 172.93 265.00 172.91C263.33 172.89 261.67 172.68 260.00 172.53C258.33 172.39 256.67 172.24 255.00 172.01C253.33 171.78 251.67 171.52 250.00 171.15C248.33 170.78 246.67 170.26 245.00 169.78C243.33 169.31 241.67 168.82 240.00 168.28C238.33 167.73 236.67 167.20 235.00 166.53C233.33 165.86 231.67 165.06 230.00 164.26C228.33 163.47 226.67 162.59 225.00 161.78C223.33 160.96 221.67 160.11 220.00 159.40C218.33 158.68 216.67 158.07 215.00 157.48C213.33 156.89 211.67 156.41 210.00 155.88C208.33 155.35 206.67 154.84 205.00 154.31C203.33 153.78 201.67 153.31 200.00 152.70C198.33 152.10 196.67 151.48 195.00 150.68C193.33 149.89 191.67 148.98 190.00 147.92C188.33 146.87 186.67 145.70 185.00 144.38C183.33 143.07 181.67 141.54 180.00 140.05C178.33 138.55 176.67 137.00 175.00 135.42C173.33 133.84 171.67 132.23 170.00 130.56C168.33 128.90 166.67 127.16 165.00 125.42C163.33 123.67 161.67 121.88 160.00 120.10C158.33 118.32 156.67 116.51 155.00 114.73C153.33 112.95 151.67 111.16 150.00 109.40C148.33 107.65 146.67 105.91 145.00 104.20C143.33 102.48 141.67 100.80 140.00 99.10C138.33 97.39 136.67 95.72 135.00 93.99C133.33 92.26 131.67 90.51 130.00 88.71C128.33 86.90 126.67 85.04 125.00 83.16C123.33 81.28 121.67 79.34 120.00 77.41C118.33 75.47 116.67 73.52 115.00 71.57C113.33 69.62 111.67 67.66 110.00 65.71C108.33 63.76 106.67 61.81 105.00 59.86C103.33 57.91 101.67 55.96 100.00 54.00C98.33 52.05 96.67 50.10 95.00 48.15C93.33 46.19 91.67 44.24 90.00 42.28C88.33 40.32 86.67 38.36 85.00 36.40C83.33 34.43 80.83 31.48 80.00 30.49L80.00 10.00Z" fill="#0072B2" fill-opacity="0.75" stroke="#0072B2" stroke-opacity="0.75" stroke-width="0.9" stroke-linejoin="round"/>
<path d="M124.00 20.05C124.83 21.37 127.33 25.30 129.00 27.98C130.67 30.66 132.33 33.38 134.00 36.12C135.67 38.86 137.33 41.67 139.00 44.44C140.67 47.22 142.33 50.03 144.00 52.75C145.67 55.46 147.33 58.15 149.00 60.74C150.67 63.33 152.33 65.84 154.00 68.28C155.67 70.72 157.33 73.07 159.00 75.37C160.67 77.67 162.33 79.89 164.00 82.08C165.67 84.26 167.33 86.37 169.00 88.47C170.67 90.58 172.33 92.63 174.00 94.69C175.67 96.74 177.33 98.78 179.00 100.83C180.67 102.88 182.33 104.91 184.00 106.99C185.67 109.07 187.33 111.19 189.00 113.31C190.67 115.43 192.33 117.62 194.00 119.70C195.67 121.77 197.33 123.79 199.00 125.75C200.67 127.71 202.33 129.57 204.00 131.45C205.67 133.32 207.33 135.20 209.00 136.99C210.67 138.77 212.33 140.45 214.00 142.16C215.67 143.86 217.33 145.50 219.00 147.21C220.67 148.92 222.33 150.72 224.00 152.41C225.67 154.11 227.33 155.74 229.00 157.38C230.67 159.01 232.33 160.61 234.00 162.24C235.67 163.87 237.33 165.55 239.00 167.13C240.67 168.72 242.33 170.26 244.00 171.76C245.67 173.27 247.33 174.70 249.00 176.18C250.67 177.65 252.33 179.15 254.00 180.61C255.67 182.08 257.33 183.58 259.00 184.97C260.67 186.36 262.33 187.70 264.00 188.95C265.67 190.20 267.33 191.34 269.00 192.49C270.67 193.63 272.33 194.73 274.00 195.82C275.67 196.92 277.33 198.00 279.00 199.07C280.67 200.14 282.33 201.15 284.00 202.23C285.67 203.31 287.33 204.40 289.00 205.55C290.67 206.70 292.33 207.94 294.00 209.12C295.67 210.29 297.33 211.46 299.00 212.59C300.67 213.72 302.33 214.75 304.00 215.89C305.67 217.03 307.33 218.19 309.00 219.42C310.67 220.65 312.33 221.96 314.00 223.26C315.67 224.56 317.33 225.88 319.00 227.21C320.67 228.54 322.33 229.89 324.00 231.24C325.67 232.59 327.33 233.95 329.00 235.33C330.67 236.71 332.33 238.12 334.00 239.52C335.67 240.92 337.33 242.34 339.00 243.71C340.67 245.08 342.33 246.45 344.00 247.74C345.67 249.02 347.33 250.29 349.00 251.44C350.67 252.58 352.33 253.64 354.00 254.61C355.67 255.58 357.33 256.48 359.00 257.25C360.67 258.03 362.33 258.72 364.00 259.26C365.67 259.80 367.33 260.21 369.00 260.50C370.67 260.79 372.33 260.85 374.00 261.00C375.67 261.14 377.33 261.24 379.00 261.36C380.67 261.48 382.33 261.60 384.00 261.71C385.67 261.83 387.33 261.95 389.00 262.07C390.67 262.19 393.00 262.36 394.00 262.43C395.00 262.50 394.83 262.49 395.00 262.50L395.00 262.50C394.17 262.46 391.67 262.36 390.00 262.29C388.33 262.21 386.67 262.14 385.00 262.07C383.33 262.00 381.67 261.93 380.00 261.86C378.33 261.79 376.67 261.72 375.00 261.64C373.33 261.56 371.67 261.53 370.00 261.36C368.33 261.19 366.67 260.97 365.00 260.63C363.33 260.30 361.67 259.85 360.00 259.35C358.33 258.85 356.67 258.28 355.00 257.65C353.33 257.02 351.67 256.34 350.00 255.58C348.33 254.82 346.67 253.99 345.00 253.09C343.33 252.18 341.67 251.22 340.00 250.14C338.33 249.06 336.67 247.84 335.00 246.63C333.33 245.42 331.67 244.09 330.00 242.87C328.33 241.66 326.67 240.52 325.00 239.36C323.33 238.20 321.67 237.08 320.00 235.92C318.33 234.76 316.67 233.55 315.00 232.40C313.33 231.25 311.67 230.10 310.00 229.01C308.33 227.93 306.67 226.89 305.00 225.89C303.33 224.90 301.67 223.99 300.00 223.04C298.33 222.10 296.67 221.16 295.00 220.21C293.33 219.27 291.67 218.29 290.00 217.35C288.33 216.41 286.67 215.50 285.00 214.58C283.33 213.66 281.67 212.79 280.00 211.85C278.33 210.90 276.67 209.91 275.00 208.90C273.33 207.89 271.67 206.81 270.00 205.79C268.33 204.78 266.67 203.78 265.00 202.81C263.33 201.83 261.67 200.89 260.00 199.95C258.33 199.01 256.67 198.08 255.00 197.16C253.33 196.23 251.67 195.32 250.00 194.40C248.33 193.48 246.67 192.58 245.00 191.64C243.33 190.69 241.67 189.75 240.00 188.73C238.33 187.71 236.67 186.60 235.00 185.49C233.33 184.38 231.67 183.27 230.00 182.05C228.33 180.84 226.67 179.56 225.00 178.18C223.33 176.81 221.67 175.27 220.00 173.79C218.33 172.31 216.67 170.78 215.00 169.30C213.33 167.81 211.67 166.30 210.00 164.88C208.33 163.47 206.67 162.13 205.00 160.81C203.33 159.50 201.67 158.28 200.00 156.98C198.33 155.68 196.67 154.36 195.00 153.00C193.33 151.65 191.67 150.28 190.00 148.87C188.33 147.46 186.67 146.04 185.00 144.57C183.33 143.11 181.67 141.59 180.00 140.07C178.33 138.55 176.67 137.02 175.00 135.43C173.33 133.85 171.67 132.24 170.00 130.57C168.33 128.90 166.67 127.16 165.00 125.42C163.33 123.67 161.67 121.88 160.00 120.10C158.33 118.32 156.67 116.51 155.00 114.73C153.33 112.95 151.67 111.16 150.00 109.40C148.33 107.65 146.67 105.91 145.00 104.20C143.33 102.48 141.67 100.80 140.00 99.10C138.33 97.39 136.67 95.72 135.00 93.99C133.33 92.26 131.67 90.51 130.00 88.71C128.33 86.90 126.67 85.04 125.00 83.16C123.33 81.28 121.67 79.34 120.00 77.41C118.33 75.47 116.67 73.52 115.00 71.57C113.33 69.62 111.67 67.66 110.00 65.71C108.33 63.76 106.67 61.81 105.00 59.86C103.33 57.91 101.67 55.96 100.00 54.00C98.33 52.05 96.67 50.10 95.00 48.15C93.33 46.19 91.67 44.24 90.00 42.28C88.33 40.32 86.67 38.36 85.00 36.40C83.33 34.43 80.83 31.48 80.00 30.49L80.00 10.00Z" fill="#56B4E9" fill-opacity="0.75" stroke="#56B4E9" stroke-opacity="0.75" stroke-width="0.9" stroke-linejoin="round"/>
<path d="M100.00 20.01C100.83 21.16 103.33 24.60 105.00 26.91C106.67 29.22 108.33 31.55 110.00 33.89C111.67 36.22 113.33 38.59 115.00 40.95C116.67 43.31 118.33 45.69 120.00 48.06C121.67 50.43 123.33 52.80 125.00 55.14C126.67 57.48 128.33 59.81 130.00 62.11C131.67 64.40 133.33 66.67 135.00 68.92C136.67 71.16 138.33 73.39 140.00 75.58C141.67 77.76 143.33 79.94 145.00 82.03C146.67 84.13 148.33 86.19 150.00 88.15C151.67 90.12 153.33 92.00 155.00 93.84C156.67 95.68 158.33 97.42 160.00 99.19C161.67 100.95 163.33 102.67 165.00 104.41C166.67 106.16 168.33 107.89 170.00 109.65C171.67 111.40 173.33 113.19 175.00 114.94C176.67 116.69 178.33 118.52 180.00 120.16C181.67 121.81 183.33 123.34 185.00 124.82C186.67 126.29 188.33 127.63 190.00 129.03C191.67 130.43 193.33 131.81 195.00 133.21C196.67 134.61 198.33 136.06 200.00 137.44C201.67 138.83 203.33 140.27 205.00 141.52C206.67 142.78 208.33 143.89 210.00 144.96C211.67 146.03 213.33 146.96 215.00 147.95C216.67 148.93 218.33 149.92 220.00 150.88C221.67 151.83 223.33 152.78 225.00 153.67C226.67 154.56 228.33 155.42 230.00 156.20C231.67 156.99 233.33 157.73 235.00 158.40C236.67 159.07 238.33 159.65 240.00 160.21C241.67 160.76 243.33 161.27 245.00 161.73C246.67 162.19 248.33 162.62 250.00 162.98C251.67 163.35 253.33 163.66 255.00 163.93C256.67 164.20 258.33 164.44 260.00 164.62C261.67 164.79 263.33 164.98 265.00 164.98C266.67 164.98 268.33 164.78 270.00 164.60C271.67 164.43 273.33 164.16 275.00 163.94C276.67 163.72 278.33 163.49 280.00 163.26C281.67 163.03 283.33 162.85 285.00 162.55C286.67 162.25 288.33 161.96 290.00 161.44C291.67 160.93 293.33 160.18 295.00 159.45C296.67 158.72 298.33 157.87 300.00 157.06C301.67 156.25 303.33 155.48 305.00 154.58C306.67 153.68 308.33 152.72 310.00 151.65C311.67 150.58 313.33 149.33 315.00 148.13C316.67 146.94 318.33 145.66 320.00 144.47C321.67 143.28 323.33 142.08 325.00 140.99C326.67 139.91 328.33 138.88 330.00 137.95C331.67 137.02 333.33 136.11 335.00 135.41C336.67 134.72 338.33 134.12 340.00 133.77C341.67 133.43 343.33 133.17 345.00 133.33C346.67 133.50 348.33 133.79 350.00 134.75C351.67 135.71 353.33 136.79 355.00 139.10C356.67 141.42 358.33 144.17 360.00 148.62C361.67 153.06 363.33 159.30 365.00 165.78C366.67 172.26 368.33 180.38 370.00 187.51C371.67 194.64 373.33 201.82 375.00 208.57C376.67 215.33 378.33 221.81 380.00 228.03C381.67 234.25 383.33 240.94 385.00 245.89C386.67 250.85 388.33 255.03 390.00 257.75C391.67 260.47 394.17 261.48 395.00 262.22" fill="none" stroke="#0072B2" stroke-width="1.70" stroke-linejoin="round" stroke-linecap="butt"/>
<path d="M95.00 20.00C95.83 21.23 98.33 24.92 100.00 27.39C101.67 29.86 103.33 32.32 105.00 34.80C106.67 37.27 108.33 39.75 110.00 42.23C111.67 44.71 113.33 47.19 115.00 49.66C116.67 52.13 118.33 54.61 120.00 57.05C121.67 59.50 123.33 61.94 125.00 64.34C126.67 66.74 128.33 69.13 130.00 71.45C131.67 73.78 133.33 76.06 135.00 78.28C136.67 80.50 138.33 82.65 140.00 84.76C141.67 86.87 143.33 88.91 145.00 90.95C146.67 92.98 148.33 94.98 150.00 96.97C151.67 98.96 153.33 100.94 155.00 102.91C156.67 104.87 158.33 106.83 160.00 108.77C161.67 110.72 163.33 112.65 165.00 114.56C166.67 116.46 168.33 118.37 170.00 120.19C171.67 122.02 173.33 123.82 175.00 125.50C176.67 127.19 178.33 128.73 180.00 130.28C181.67 131.83 183.33 133.32 185.00 134.81C186.67 136.31 188.33 137.80 190.00 139.26C191.67 140.72 193.33 142.18 195.00 143.58C196.67 144.98 198.33 146.36 200.00 147.66C201.67 148.95 203.33 150.13 205.00 151.35C206.67 152.56 208.33 153.79 210.00 154.94C211.67 156.09 213.33 157.27 215.00 158.26C216.67 159.25 218.33 160.06 220.00 160.87C221.67 161.69 223.33 162.39 225.00 163.12C226.67 163.85 228.33 164.57 230.00 165.27C231.67 165.98 233.33 166.68 235.00 167.37C236.67 168.05 238.33 168.73 240.00 169.39C241.67 170.05 243.33 170.69 245.00 171.33C246.67 171.97 248.33 172.60 250.00 173.23C251.67 173.85 253.33 174.52 255.00 175.07C256.67 175.62 258.33 176.14 260.00 176.52C261.67 176.90 263.33 177.10 265.00 177.34C266.67 177.58 268.33 177.76 270.00 177.96C271.67 178.16 273.33 178.38 275.00 178.54C276.67 178.69 278.33 178.82 280.00 178.91C281.67 178.99 283.33 179.01 285.00 179.05C286.67 179.10 288.33 179.13 290.00 179.16C291.67 179.19 293.33 179.23 295.00 179.22C296.67 179.21 298.33 179.17 300.00 179.11C301.67 179.05 303.33 178.95 305.00 178.87C306.67 178.79 308.33 178.70 310.00 178.61C311.67 178.53 313.33 178.40 315.00 178.37C316.67 178.34 318.33 178.29 320.00 178.44C321.67 178.59 323.33 178.94 325.00 179.29C326.67 179.64 328.33 179.95 330.00 180.54C331.67 181.12 333.33 181.70 335.00 182.79C336.67 183.87 338.33 185.46 340.00 187.06C341.67 188.66 343.33 190.43 345.00 192.39C346.67 194.36 348.33 196.59 350.00 198.87C351.67 201.14 353.33 203.54 355.00 206.05C356.67 208.57 358.33 211.03 360.00 213.96C361.67 216.88 363.33 220.21 365.00 223.62C366.67 227.03 368.33 230.88 370.00 234.42C371.67 237.96 373.33 241.67 375.00 244.88C376.67 248.08 378.33 251.29 380.00 253.67C381.67 256.05 383.33 257.88 385.00 259.17C386.67 260.45 388.33 260.84 390.00 261.38C391.67 261.92 394.17 262.23 395.00 262.40" fill="none" stroke="#D55E00" stroke-width="1.70" stroke-linejoin="round" stroke-linecap="butt"/>
<path d="M98.00 20.04C98.83 21.26 101.33 24.90 103.00 27.38C104.67 29.86 106.33 32.38 108.00 34.94C109.67 37.51 111.33 40.14 113.00 42.77C114.67 45.40 116.33 48.08 118.00 50.71C119.67 53.34 121.33 55.98 123.00 58.54C124.67 61.10 126.33 63.62 128.00 66.09C129.67 68.56 131.33 70.97 133.00 73.35C134.67 75.72 136.33 78.05 138.00 80.35C139.67 82.65 141.33 84.90 143.00 87.14C144.67 89.38 146.33 91.59 148.00 93.78C149.67 95.97 151.33 98.15 153.00 100.30C154.67 102.44 156.33 104.57 158.00 106.66C159.67 108.75 161.33 110.80 163.00 112.83C164.67 114.87 166.33 116.87 168.00 118.86C169.67 120.85 171.33 122.83 173.00 124.79C174.67 126.74 176.33 128.73 178.00 130.58C179.67 132.44 181.33 134.22 183.00 135.90C184.67 137.59 186.33 139.15 188.00 140.70C189.67 142.25 191.33 143.70 193.00 145.19C194.67 146.68 196.33 148.14 198.00 149.62C199.67 151.09 201.33 152.57 203.00 154.04C204.67 155.51 206.33 157.00 208.00 158.45C209.67 159.89 211.33 161.33 213.00 162.71C214.67 164.09 216.33 165.39 218.00 166.71C219.67 168.03 221.33 169.33 223.00 170.64C224.67 171.95 226.33 173.26 228.00 174.57C229.67 175.88 231.33 177.21 233.00 178.50C234.67 179.78 236.33 181.12 238.00 182.29C239.67 183.46 241.33 184.51 243.00 185.50C244.67 186.49 246.33 187.33 248.00 188.23C249.67 189.13 251.33 190.00 253.00 190.88C254.67 191.76 256.33 192.64 258.00 193.53C259.67 194.41 261.33 195.30 263.00 196.18C264.67 197.07 266.33 197.95 268.00 198.84C269.67 199.73 271.33 200.60 273.00 201.51C274.67 202.42 276.33 203.33 278.00 204.31C279.67 205.29 281.33 206.35 283.00 207.40C284.67 208.45 286.33 209.53 288.00 210.60C289.67 211.67 291.33 212.74 293.00 213.81C294.67 214.89 296.33 215.96 298.00 217.06C299.67 218.15 301.33 219.25 303.00 220.36C304.67 221.46 306.33 222.57 308.00 223.68C309.67 224.79 311.33 225.89 313.00 227.03C314.67 228.17 316.33 229.34 318.00 230.54C319.67 231.74 321.33 232.98 323.00 234.23C324.67 235.47 326.33 236.71 328.00 238.00C329.67 239.28 331.33 240.62 333.00 241.93C334.67 243.23 336.33 244.60 338.00 245.84C339.67 247.09 341.33 248.28 343.00 249.41C344.67 250.54 346.33 251.62 348.00 252.61C349.67 253.60 351.33 254.51 353.00 255.36C354.67 256.21 356.33 257.01 358.00 257.70C359.67 258.40 361.33 259.04 363.00 259.56C364.67 260.07 366.33 260.51 368.00 260.80C369.67 261.09 371.33 261.18 373.00 261.31C374.67 261.44 376.33 261.50 378.00 261.59C379.67 261.68 381.33 261.77 383.00 261.86C384.67 261.95 386.33 262.04 388.00 262.13C389.67 262.21 391.83 262.33 393.00 262.39C394.17 262.46 394.67 262.48 395.00 262.50" fill="none" stroke="#56B4E9" stroke-width="1.50" stroke-linejoin="round" stroke-linecap="butt"/>
<path d="M95.00 20.00C95.83 21.24 98.33 24.96 100.00 27.44C101.67 29.93 103.33 32.41 105.00 34.91C106.67 37.40 108.33 39.90 110.00 42.39C111.67 44.89 113.33 47.39 115.00 49.88C116.67 52.37 118.33 54.86 120.00 57.33C121.67 59.79 123.33 62.25 125.00 64.68C126.67 67.11 128.33 69.52 130.00 71.90C131.67 74.28 133.33 76.63 135.00 78.94C136.67 81.26 138.33 83.53 140.00 85.79C141.67 88.04 143.33 90.26 145.00 92.46C146.67 94.66 148.33 96.84 150.00 99.00C151.67 101.15 153.33 103.28 155.00 105.37C156.67 107.47 158.33 109.52 160.00 111.55C161.67 113.58 163.33 115.58 165.00 117.56C166.67 119.53 168.33 121.49 170.00 123.43C171.67 125.37 173.33 127.33 175.00 129.18C176.67 131.04 178.33 132.84 180.00 134.56C181.67 136.28 183.33 137.88 185.00 139.50C186.67 141.11 188.33 142.67 190.00 144.25C191.67 145.82 193.33 147.38 195.00 148.95C196.67 150.51 198.33 152.08 200.00 153.64C201.67 155.20 203.33 156.81 205.00 158.31C206.67 159.81 208.33 161.34 210.00 162.63C211.67 163.91 213.33 164.98 215.00 166.03C216.67 167.08 218.33 167.98 220.00 168.94C221.67 169.90 223.33 170.85 225.00 171.81C226.67 172.76 228.33 173.72 230.00 174.67C231.67 175.62 233.33 176.60 235.00 177.53C236.67 178.45 238.33 179.39 240.00 180.24C241.67 181.09 243.33 181.86 245.00 182.64C246.67 183.41 248.33 184.15 250.00 184.90C251.67 185.65 253.33 186.40 255.00 187.14C256.67 187.89 258.33 188.63 260.00 189.36C261.67 190.09 263.33 190.81 265.00 191.53C266.67 192.25 268.33 192.96 270.00 193.68C271.67 194.41 273.33 195.10 275.00 195.89C276.67 196.69 278.33 197.53 280.00 198.45C281.67 199.37 283.33 200.39 285.00 201.39C286.67 202.40 288.33 203.43 290.00 204.47C291.67 205.51 293.33 206.56 295.00 207.64C296.67 208.72 298.33 209.83 300.00 210.96C301.67 212.09 303.33 213.25 305.00 214.43C306.67 215.61 308.33 216.83 310.00 218.05C311.67 219.27 313.33 220.53 315.00 221.77C316.67 223.01 318.33 224.25 320.00 225.50C321.67 226.74 323.33 227.97 325.00 229.23C326.67 230.50 328.33 231.77 330.00 233.10C331.67 234.43 333.33 235.83 335.00 237.22C336.67 238.61 338.33 240.04 340.00 241.44C341.67 242.85 343.33 244.29 345.00 245.65C346.67 247.00 348.33 248.34 350.00 249.57C351.67 250.80 353.33 251.97 355.00 253.05C356.67 254.13 358.33 255.13 360.00 256.04C361.67 256.94 363.33 257.78 365.00 258.48C366.67 259.18 368.33 259.78 370.00 260.24C371.67 260.70 373.33 261.01 375.00 261.26C376.67 261.51 378.33 261.61 380.00 261.73C381.67 261.86 383.33 261.91 385.00 262.00C386.67 262.09 388.33 262.17 390.00 262.25C391.67 262.33 394.17 262.46 395.00 262.50" fill="none" stroke="#CC79A7" stroke-width="1.60" stroke-linejoin="round" stroke-linecap="butt"/>
<path d="M84.00 20.00C84.83 21.18 87.33 24.72 89.00 27.07C90.67 29.43 92.33 31.79 94.00 34.14C95.67 36.49 97.33 38.85 99.00 41.19C100.67 43.53 102.33 45.88 104.00 48.17C105.67 50.47 107.33 52.75 109.00 54.96C110.67 57.16 112.33 59.31 114.00 61.39C115.67 63.48 117.33 65.47 119.00 67.45C120.67 69.43 122.33 71.34 124.00 73.27C125.67 75.20 127.33 77.10 129.00 79.04C130.67 80.98 132.33 82.92 134.00 84.93C135.67 86.94 137.33 89.00 139.00 91.10C140.67 93.20 142.33 95.39 144.00 97.54C145.67 99.69 147.33 101.88 149.00 103.99C150.67 106.09 152.33 108.16 154.00 110.17C155.67 112.18 157.33 114.12 159.00 116.04C160.67 117.96 162.33 119.83 164.00 121.69C165.67 123.55 167.33 125.40 169.00 127.20C170.67 128.99 172.33 130.78 174.00 132.48C175.67 134.18 177.33 135.78 179.00 137.38C180.67 138.98 182.33 140.50 184.00 142.07C185.67 143.63 187.33 145.19 189.00 146.77C190.67 148.35 192.33 149.95 194.00 151.54C195.67 153.13 197.33 154.73 199.00 156.31C200.67 157.90 202.33 159.50 204.00 161.05C205.67 162.60 207.33 164.11 209.00 165.61C210.67 167.11 212.33 168.56 214.00 170.02C215.67 171.49 217.33 172.96 219.00 174.41C220.67 175.86 222.33 177.35 224.00 178.71C225.67 180.06 227.33 181.33 229.00 182.53C230.67 183.73 232.33 184.79 234.00 185.88C235.67 186.98 237.33 188.06 239.00 189.11C240.67 190.16 242.33 191.17 244.00 192.18C245.67 193.20 247.33 194.18 249.00 195.18C250.67 196.18 252.33 197.18 254.00 198.17C255.67 199.16 257.33 200.16 259.00 201.15C260.67 202.13 262.33 203.11 264.00 204.10C265.67 205.08 267.33 206.06 269.00 207.03C270.67 208.01 272.33 209.00 274.00 209.97C275.67 210.94 277.33 211.91 279.00 212.86C280.67 213.81 282.33 214.73 284.00 215.67C285.67 216.60 287.33 217.52 289.00 218.44C290.67 219.37 292.33 220.28 294.00 221.24C295.67 222.20 297.33 223.18 299.00 224.19C300.67 225.21 302.33 226.29 304.00 227.34C305.67 228.40 307.33 229.46 309.00 230.53C310.67 231.60 312.33 232.66 314.00 233.75C315.67 234.84 317.33 235.95 319.00 237.07C320.67 238.20 322.33 239.35 324.00 240.49C325.67 241.62 327.33 242.77 329.00 243.90C330.67 245.04 332.33 246.18 334.00 247.29C335.67 248.39 337.33 249.53 339.00 250.56C340.67 251.58 342.33 252.55 344.00 253.44C345.67 254.34 347.33 255.18 349.00 255.93C350.67 256.67 352.33 257.34 354.00 257.91C355.67 258.48 357.33 258.93 359.00 259.37C360.67 259.81 362.33 260.24 364.00 260.54C365.67 260.84 367.33 261.01 369.00 261.16C370.67 261.31 372.33 261.36 374.00 261.45C375.67 261.54 377.33 261.62 379.00 261.70C380.67 261.78 382.33 261.87 384.00 261.95C385.67 262.03 387.33 262.12 389.00 262.20C390.67 262.28 393.00 262.40 394.00 262.45C395.00 262.50 394.83 262.49 395.00 262.50" fill="none" stroke="#009E73" stroke-width="1.70" stroke-linejoin="round" stroke-linecap="butt"/>
<path d="M80.00 126.01C80.83 126.80 83.33 129.15 85.00 130.72C86.67 132.28 88.33 133.86 90.00 135.43C91.67 136.99 93.33 138.56 95.00 140.09C96.67 141.62 98.33 143.14 100.00 144.61C101.67 146.08 103.33 147.51 105.00 148.92C106.67 150.32 108.33 151.69 110.00 153.04C111.67 154.39 113.33 155.71 115.00 157.01C116.67 158.31 118.33 159.59 120.00 160.85C121.67 162.11 123.33 163.35 125.00 164.58C126.67 165.81 128.33 167.03 130.00 168.24C131.67 169.45 133.33 170.65 135.00 171.83C136.67 173.02 138.33 174.20 140.00 175.34C141.67 176.49 143.33 177.63 145.00 178.72C146.67 179.80 148.33 180.86 150.00 181.87C151.67 182.87 153.33 183.83 155.00 184.76C156.67 185.69 158.33 186.57 160.00 187.46C161.67 188.35 163.33 189.21 165.00 190.08C166.67 190.95 168.33 191.81 170.00 192.67C171.67 193.54 173.33 194.40 175.00 195.26C176.67 196.13 178.33 196.99 180.00 197.85C181.67 198.71 183.33 199.59 185.00 200.42C186.67 201.25 188.33 202.06 190.00 202.84C191.67 203.61 193.33 204.33 195.00 205.06C196.67 205.80 198.33 206.52 200.00 207.25C201.67 207.98 203.33 208.71 205.00 209.44C206.67 210.17 208.33 210.89 210.00 211.63C211.67 212.36 213.33 213.07 215.00 213.83C216.67 214.59 218.33 215.34 220.00 216.18C221.67 217.02 223.33 217.96 225.00 218.89C226.67 219.81 228.33 220.79 230.00 221.75C231.67 222.71 233.33 223.68 235.00 224.62C236.67 225.56 238.33 226.50 240.00 227.39C241.67 228.27 243.33 229.11 245.00 229.94C246.67 230.76 248.33 231.55 250.00 232.31C251.67 233.07 253.33 233.79 255.00 234.51C256.67 235.23 258.33 235.93 260.00 236.63C261.67 237.34 263.33 238.06 265.00 238.74C266.67 239.42 268.33 240.10 270.00 240.73C271.67 241.37 273.33 241.95 275.00 242.54C276.67 243.13 278.33 243.71 280.00 244.30C281.67 244.88 283.33 245.47 285.00 246.03C286.67 246.59 288.33 247.13 290.00 247.64C291.67 248.16 293.33 248.63 295.00 249.12C296.67 249.61 298.33 250.10 300.00 250.58C301.67 251.06 303.33 251.55 305.00 252.01C306.67 252.48 308.33 252.93 310.00 253.38C311.67 253.83 313.33 254.27 315.00 254.69C316.67 255.11 318.33 255.53 320.00 255.89C321.67 256.25 323.33 256.54 325.00 256.85C326.67 257.16 328.33 257.44 330.00 257.76C331.67 258.08 333.33 258.43 335.00 258.76C336.67 259.10 338.33 259.44 340.00 259.75C341.67 260.06 343.33 260.35 345.00 260.62C346.67 260.89 348.33 261.18 350.00 261.38C351.67 261.58 353.33 261.71 355.00 261.80C356.67 261.89 358.33 261.89 360.00 261.93C361.67 261.96 363.33 261.98 365.00 262.01C366.67 262.04 368.33 262.07 370.00 262.09C371.67 262.12 373.33 262.15 375.00 262.17C376.67 262.20 378.33 262.23 380.00 262.26C381.67 262.28 383.33 262.31 385.00 262.34C386.67 262.36 388.33 262.39 390.00 262.42C391.67 262.45 394.17 262.49 395.00 262.50" fill="none" stroke="#F0E442" stroke-width="1.70" stroke-linejoin="round" stroke-linecap="butt"/></g>
<g clip-path="url(#cr)"><path d="M636.00 20.00C636.83 21.33 639.33 25.32 641.00 27.98C642.67 30.63 644.33 33.29 646.00 35.95C647.67 38.61 649.33 41.26 651.00 43.95C652.67 46.63 654.33 49.41 656.00 52.05C657.67 54.70 659.33 57.30 661.00 59.82C662.67 62.34 664.33 64.74 666.00 67.15C667.67 69.56 669.33 71.95 671.00 74.29C672.67 76.62 674.33 78.91 676.00 81.15C677.67 83.39 679.33 85.69 681.00 87.74C682.67 89.78 684.33 91.56 686.00 93.42C687.67 95.27 689.33 96.96 691.00 98.86C692.67 100.76 694.33 102.91 696.00 104.82C697.67 106.73 699.33 108.51 701.00 110.33C702.67 112.15 704.33 113.80 706.00 115.75C707.67 117.71 709.33 119.72 711.00 122.07C712.67 124.41 714.33 126.81 716.00 129.80C717.67 132.79 719.33 136.23 721.00 140.00C722.67 143.76 724.33 148.16 726.00 152.41C727.67 156.65 729.33 161.11 731.00 165.44C732.67 169.77 734.33 174.17 736.00 178.38C737.67 182.60 739.33 186.84 741.00 190.74C742.67 194.63 744.33 198.36 746.00 201.75C747.67 205.14 749.33 208.09 751.00 211.06C752.67 214.03 754.33 216.85 756.00 219.59C757.67 222.33 759.33 225.03 761.00 227.51C762.67 229.98 764.33 232.25 766.00 234.45C767.67 236.66 769.33 238.71 771.00 240.75C772.67 242.78 774.33 244.81 776.00 246.65C777.67 248.50 779.33 250.31 781.00 251.84C782.67 253.36 784.33 254.65 786.00 255.78C787.67 256.91 789.33 257.85 791.00 258.60C792.67 259.34 794.33 259.81 796.00 260.25C797.67 260.68 799.33 260.94 801.00 261.21C802.67 261.49 804.67 261.72 806.00 261.90C807.33 262.08 808.50 262.23 809.00 262.30L809.00 262.60C808.83 262.58 809.00 262.60 808.00 262.50C807.00 262.41 804.67 262.19 803.00 262.02C801.33 261.84 799.67 261.72 798.00 261.47C796.33 261.21 794.67 260.96 793.00 260.50C791.33 260.04 789.67 259.50 788.00 258.71C786.33 257.93 784.67 256.92 783.00 255.79C781.33 254.66 779.67 253.41 778.00 251.93C776.33 250.46 774.67 248.71 773.00 246.93C771.33 245.15 769.67 243.24 768.00 241.27C766.33 239.29 764.67 237.24 763.00 235.08C761.33 232.92 759.67 230.69 758.00 228.31C756.33 225.93 754.67 223.41 753.00 220.82C751.33 218.23 749.67 215.51 748.00 212.77C746.33 210.03 744.67 207.27 743.00 204.38C741.33 201.49 739.67 198.50 738.00 195.42C736.33 192.34 734.67 189.12 733.00 185.91C731.33 182.71 729.67 179.33 728.00 176.18C726.33 173.04 724.67 169.99 723.00 167.06C721.33 164.13 719.67 161.26 718.00 158.59C716.33 155.93 714.67 153.30 713.00 151.07C711.33 148.84 709.67 146.92 708.00 145.23C706.33 143.53 704.67 142.14 703.00 140.89C701.33 139.63 699.67 138.56 698.00 137.70C696.33 136.84 694.67 136.16 693.00 135.72C691.33 135.28 689.67 135.12 688.00 135.06C686.33 135.01 684.67 135.24 683.00 135.39C681.33 135.55 679.67 135.81 678.00 135.99C676.33 136.16 674.67 136.32 673.00 136.43C671.33 136.54 669.67 136.63 668.00 136.66C666.33 136.69 664.67 136.65 663.00 136.60C661.33 136.55 659.67 136.49 658.00 136.37C656.33 136.24 654.67 136.11 653.00 135.84C651.33 135.57 649.67 135.22 648.00 134.74C646.33 134.27 644.67 133.72 643.00 133.00C641.33 132.29 639.67 131.43 638.00 130.47C636.33 129.51 634.67 128.44 633.00 127.24C631.33 126.04 629.67 124.71 628.00 123.27C626.33 121.83 624.67 120.26 623.00 118.60C621.33 116.93 619.67 115.08 618.00 113.28C616.33 111.48 614.67 109.65 613.00 107.80C611.33 105.96 609.67 104.12 608.00 102.21C606.33 100.29 604.67 98.36 603.00 96.31C601.33 94.26 599.67 92.18 598.00 89.91C596.33 87.64 594.67 85.16 593.00 82.68C591.33 80.20 589.67 77.60 588.00 75.01C586.33 72.41 584.67 69.75 583.00 67.09C581.33 64.44 579.67 61.75 578.00 59.08C576.33 56.41 574.67 53.72 573.00 51.06C571.33 48.39 569.67 45.72 568.00 43.08C566.33 40.44 564.67 37.82 563.00 35.24C561.33 32.66 559.67 30.11 558.00 27.59C556.33 25.06 553.83 21.34 553.00 20.09Z" fill="#000000" fill-opacity="0.75" stroke="#000000" stroke-opacity="0.75" stroke-width="0.9" stroke-linejoin="round"/>
<path d="M609.00 20.00C609.83 21.24 612.33 24.94 614.00 27.46C615.67 29.98 617.33 32.51 619.00 35.13C620.67 37.74 622.33 40.46 624.00 43.14C625.67 45.82 627.33 48.54 629.00 51.19C630.67 53.85 632.33 56.52 634.00 59.05C635.67 61.57 637.33 64.01 639.00 66.34C640.67 68.67 642.33 70.94 644.00 73.01C645.67 75.09 647.33 76.92 649.00 78.77C650.67 80.63 652.33 82.42 654.00 84.16C655.67 85.91 657.33 87.63 659.00 89.24C660.67 90.85 662.33 92.30 664.00 93.81C665.67 95.31 667.33 96.76 669.00 98.24C670.67 99.73 672.33 101.23 674.00 102.70C675.67 104.17 677.33 105.65 679.00 107.05C680.67 108.46 682.33 109.79 684.00 111.15C685.67 112.50 687.33 113.81 689.00 115.16C690.67 116.50 692.33 117.83 694.00 119.20C695.67 120.57 697.33 121.92 699.00 123.36C700.67 124.80 702.33 126.21 704.00 127.84C705.67 129.47 707.33 131.15 709.00 133.13C710.67 135.11 712.33 137.21 714.00 139.72C715.67 142.23 717.33 145.13 719.00 148.20C720.67 151.27 722.33 154.70 724.00 158.14C725.67 161.59 727.33 165.15 729.00 168.85C730.67 172.54 732.33 176.49 734.00 180.31C735.67 184.13 737.33 188.14 739.00 191.77C740.67 195.39 742.33 198.84 744.00 202.05C745.67 205.27 747.33 208.16 749.00 211.06C750.67 213.95 752.33 216.72 754.00 219.41C755.67 222.10 757.33 224.75 759.00 227.20C760.67 229.65 762.33 231.93 764.00 234.13C765.67 236.33 767.33 238.39 769.00 240.41C770.67 242.42 772.33 244.39 774.00 246.23C775.67 248.07 777.33 249.89 779.00 251.43C780.67 252.96 782.33 254.27 784.00 255.44C785.67 256.61 787.33 257.65 789.00 258.45C790.67 259.25 792.33 259.78 794.00 260.25C795.67 260.71 797.33 260.98 799.00 261.24C800.67 261.51 802.33 261.66 804.00 261.85C805.67 262.04 808.17 262.31 809.00 262.40" fill="none" stroke="#000000" stroke-width="2.10" stroke-linejoin="round" stroke-linecap="butt"/>
<path d="M490.00 148.49C490.83 149.02 493.33 150.60 495.00 151.65C496.67 152.70 498.33 153.75 500.00 154.80C501.67 155.84 503.33 156.88 505.00 157.91C506.67 158.94 508.33 159.96 510.00 160.97C511.67 161.99 513.33 162.99 515.00 163.98C516.67 164.97 518.33 165.94 520.00 166.90C521.67 167.86 523.33 168.81 525.00 169.74C526.67 170.67 528.33 171.59 530.00 172.50C531.67 173.41 533.33 174.31 535.00 175.20C536.67 176.09 538.33 176.98 540.00 177.84C541.67 178.70 543.33 179.56 545.00 180.38C546.67 181.21 548.33 182.01 550.00 182.78C551.67 183.55 553.33 184.29 555.00 185.00C556.67 185.72 558.33 186.40 560.00 187.07C561.67 187.74 563.33 188.39 565.00 189.01C566.67 189.64 568.33 190.25 570.00 190.83C571.67 191.41 573.33 191.97 575.00 192.48C576.67 192.99 578.33 193.48 580.00 193.90C581.67 194.33 583.33 194.71 585.00 195.06C586.67 195.40 588.33 195.69 590.00 195.99C591.67 196.29 593.33 196.54 595.00 196.84C596.67 197.14 598.33 197.39 600.00 197.78C601.67 198.17 603.33 198.66 605.00 199.19C606.67 199.73 608.33 200.38 610.00 200.97C611.67 201.57 613.33 202.17 615.00 202.75C616.67 203.33 618.33 203.91 620.00 204.47C621.67 205.03 623.33 205.57 625.00 206.11C626.67 206.65 628.33 207.20 630.00 207.72C631.67 208.23 633.33 208.74 635.00 209.20C636.67 209.66 638.33 210.07 640.00 210.49C641.67 210.90 643.33 211.32 645.00 211.70C646.67 212.08 648.33 212.44 650.00 212.77C651.67 213.09 653.33 213.39 655.00 213.66C656.67 213.94 658.33 214.19 660.00 214.43C661.67 214.66 663.33 214.85 665.00 215.08C666.67 215.30 668.33 215.51 670.00 215.77C671.67 216.02 673.33 216.30 675.00 216.61C676.67 216.91 678.33 217.24 680.00 217.60C681.67 217.96 683.33 218.37 685.00 218.78C686.67 219.19 688.33 219.62 690.00 220.05C691.67 220.47 693.33 220.90 695.00 221.33C696.67 221.76 698.33 222.20 700.00 222.64C701.67 223.08 703.33 223.52 705.00 223.96C706.67 224.40 708.33 224.82 710.00 225.30C711.67 225.79 713.33 226.27 715.00 226.87C716.67 227.48 718.33 228.22 720.00 228.93C721.67 229.65 723.33 230.42 725.00 231.17C726.67 231.91 728.33 232.64 730.00 233.41C731.67 234.19 733.33 234.87 735.00 235.80C736.67 236.74 738.33 237.78 740.00 239.03C741.67 240.27 743.33 241.83 745.00 243.25C746.67 244.68 748.33 246.26 750.00 247.57C751.67 248.89 753.33 250.11 755.00 251.14C756.67 252.18 758.33 252.98 760.00 253.80C761.67 254.62 763.33 255.35 765.00 256.05C766.67 256.75 768.33 257.43 770.00 258.00C771.67 258.56 773.33 259.01 775.00 259.43C776.67 259.84 778.33 260.16 780.00 260.47C781.67 260.78 783.33 261.08 785.00 261.29C786.67 261.49 788.33 261.59 790.00 261.69C791.67 261.80 793.33 261.84 795.00 261.92C796.67 261.99 798.33 262.06 800.00 262.12C801.67 262.19 803.50 262.27 805.00 262.33C806.50 262.40 808.33 262.47 809.00 262.50L809.00 262.60C808.33 262.59 806.50 262.55 805.00 262.52C803.50 262.49 801.67 262.45 800.00 262.41C798.33 262.38 796.67 262.34 795.00 262.31C793.33 262.28 791.67 262.24 790.00 262.21C788.33 262.17 786.67 262.15 785.00 262.09C783.33 262.04 781.67 261.98 780.00 261.86C778.33 261.73 776.67 261.53 775.00 261.34C773.33 261.15 771.67 260.92 770.00 260.70C768.33 260.48 766.67 260.28 765.00 260.01C763.33 259.73 761.67 259.43 760.00 259.05C758.33 258.68 756.67 258.25 755.00 257.75C753.33 257.24 751.67 256.65 750.00 256.02C748.33 255.39 746.67 254.67 745.00 253.98C743.33 253.30 741.67 252.60 740.00 251.93C738.33 251.25 736.67 250.58 735.00 249.92C733.33 249.26 731.67 248.59 730.00 247.95C728.33 247.32 726.67 246.66 725.00 246.13C723.33 245.61 721.67 245.21 720.00 244.81C718.33 244.42 716.67 244.12 715.00 243.78C713.33 243.44 711.67 243.09 710.00 242.78C708.33 242.47 706.67 242.15 705.00 241.91C703.33 241.67 701.67 241.50 700.00 241.32C698.33 241.14 696.67 241.00 695.00 240.84C693.33 240.69 691.67 240.52 690.00 240.40C688.33 240.28 686.67 240.17 685.00 240.14C683.33 240.10 681.67 240.15 680.00 240.18C678.33 240.21 676.67 240.27 675.00 240.31C673.33 240.36 671.67 240.41 670.00 240.46C668.33 240.50 666.67 240.55 665.00 240.60C663.33 240.65 661.67 240.69 660.00 240.75C658.33 240.82 656.67 240.89 655.00 240.97C653.33 241.05 651.67 241.15 650.00 241.24C648.33 241.33 646.67 241.43 645.00 241.52C643.33 241.61 641.67 241.71 640.00 241.79C638.33 241.88 636.67 241.98 635.00 242.01C633.33 242.05 631.67 242.03 630.00 241.98C628.33 241.92 626.67 241.80 625.00 241.70C623.33 241.60 621.67 241.48 620.00 241.37C618.33 241.26 616.67 241.16 615.00 241.05C613.33 240.94 611.67 240.83 610.00 240.72C608.33 240.61 606.67 240.51 605.00 240.39C603.33 240.27 601.67 240.15 600.00 240.02C598.33 239.89 596.67 239.75 595.00 239.62C593.33 239.48 591.67 239.34 590.00 239.19C588.33 239.04 586.67 238.90 585.00 238.73C583.33 238.56 581.67 238.39 580.00 238.19C578.33 237.99 576.67 237.78 575.00 237.55C573.33 237.33 571.67 237.08 570.00 236.83C568.33 236.58 566.67 236.32 565.00 236.05C563.33 235.78 561.67 235.50 560.00 235.22C558.33 234.93 556.67 234.64 555.00 234.34C553.33 234.03 551.67 233.72 550.00 233.40C548.33 233.08 546.67 232.76 545.00 232.42C543.33 232.08 541.67 231.73 540.00 231.37C538.33 231.02 536.67 230.65 535.00 230.27C533.33 229.89 531.67 229.50 530.00 229.09C528.33 228.69 526.67 228.27 525.00 227.85C523.33 227.42 521.67 226.98 520.00 226.52C518.33 226.06 516.67 225.59 515.00 225.11C513.33 224.62 511.67 224.12 510.00 223.62C508.33 223.11 506.67 222.60 505.00 222.08C503.33 221.57 501.67 221.05 500.00 220.54C498.33 220.03 496.67 219.52 495.00 219.02C493.33 218.51 490.83 217.76 490.00 217.51Z" fill="#009E73" fill-opacity="0.75" stroke="#009E73" stroke-opacity="0.75" stroke-width="0.9" stroke-linejoin="round"/>
<path d="M490.00 152.00C490.83 152.53 493.33 154.12 495.00 155.18C496.67 156.24 498.33 157.30 500.00 158.35C501.67 159.41 503.33 160.46 505.00 161.50C506.67 162.54 508.33 163.58 510.00 164.60C511.67 165.63 513.33 166.65 515.00 167.65C516.67 168.66 518.33 169.66 520.00 170.65C521.67 171.64 523.33 172.62 525.00 173.59C526.67 174.56 528.33 175.52 530.00 176.48C531.67 177.43 533.33 178.38 535.00 179.32C536.67 180.26 538.33 181.19 540.00 182.10C541.67 183.01 543.33 183.92 545.00 184.79C546.67 185.66 548.33 186.51 550.00 187.33C551.67 188.15 553.33 188.94 555.00 189.70C556.67 190.47 558.33 191.20 560.00 191.93C561.67 192.65 563.33 193.34 565.00 194.03C566.67 194.73 568.33 195.40 570.00 196.09C571.67 196.78 573.33 197.46 575.00 198.16C576.67 198.87 578.33 199.58 580.00 200.33C581.67 201.09 583.33 201.87 585.00 202.68C586.67 203.48 588.33 204.33 590.00 205.16C591.67 205.99 593.33 206.84 595.00 207.67C596.67 208.50 598.33 209.34 600.00 210.14C601.67 210.94 603.33 211.72 605.00 212.49C606.67 213.27 608.33 214.02 610.00 214.77C611.67 215.51 613.33 216.24 615.00 216.97C616.67 217.69 618.33 218.41 620.00 219.13C621.67 219.85 623.33 220.58 625.00 221.29C626.67 222.01 628.33 222.75 630.00 223.41C631.67 224.07 633.33 224.71 635.00 225.25C636.67 225.80 638.33 226.22 640.00 226.68C641.67 227.13 643.33 227.55 645.00 227.99C646.67 228.43 648.33 228.87 650.00 229.30C651.67 229.74 653.33 230.18 655.00 230.61C656.67 231.04 658.33 231.46 660.00 231.88C661.67 232.29 663.33 232.70 665.00 233.10C666.67 233.51 668.33 233.91 670.00 234.32C671.67 234.73 673.33 235.13 675.00 235.54C676.67 235.96 678.33 236.37 680.00 236.80C681.67 237.22 683.33 237.64 685.00 238.07C686.67 238.49 688.33 238.92 690.00 239.34C691.67 239.77 693.33 240.20 695.00 240.62C696.67 241.04 698.33 241.47 700.00 241.89C701.67 242.32 703.33 242.74 705.00 243.16C706.67 243.59 708.33 243.99 710.00 244.45C711.67 244.90 713.33 245.35 715.00 245.89C716.67 246.42 718.33 247.05 720.00 247.66C721.67 248.27 723.33 248.92 725.00 249.56C726.67 250.19 728.33 250.82 730.00 251.46C731.67 252.09 733.33 252.73 735.00 253.35C736.67 253.97 738.33 254.58 740.00 255.18C741.67 255.78 743.33 256.37 745.00 256.94C746.67 257.51 748.33 258.12 750.00 258.62C751.67 259.11 753.33 259.55 755.00 259.91C756.67 260.26 758.33 260.50 760.00 260.74C761.67 260.98 763.33 261.19 765.00 261.33C766.67 261.48 768.33 261.54 770.00 261.60C771.67 261.67 773.33 261.69 775.00 261.73C776.67 261.77 778.33 261.80 780.00 261.84C781.67 261.88 783.33 261.92 785.00 261.95C786.67 261.99 788.33 262.03 790.00 262.07C791.67 262.11 793.33 262.14 795.00 262.18C796.67 262.22 798.33 262.26 800.00 262.30C801.67 262.33 803.50 262.38 805.00 262.41C806.50 262.44 808.33 262.48 809.00 262.50L809.00 262.60C808.33 262.60 806.50 262.58 805.00 262.57C803.50 262.56 801.67 262.55 800.00 262.54C798.33 262.53 796.67 262.52 795.00 262.50C793.33 262.49 791.67 262.48 790.00 262.47C788.33 262.46 786.67 262.45 785.00 262.44C783.33 262.43 781.67 262.41 780.00 262.40C778.33 262.39 776.67 262.38 775.00 262.37C773.33 262.36 771.67 262.36 770.00 262.33C768.33 262.29 766.67 262.26 765.00 262.17C763.33 262.07 761.67 261.92 760.00 261.75C758.33 261.58 756.67 261.41 755.00 261.15C753.33 260.90 751.67 260.58 750.00 260.23C748.33 259.88 746.67 259.45 745.00 259.04C743.33 258.62 741.67 258.21 740.00 257.75C738.33 257.28 736.67 256.77 735.00 256.24C733.33 255.71 731.67 255.13 730.00 254.56C728.33 254.00 726.67 253.42 725.00 252.86C723.33 252.29 721.67 251.70 720.00 251.15C718.33 250.61 716.67 250.05 715.00 249.59C713.33 249.14 711.67 248.78 710.00 248.42C708.33 248.05 706.67 247.75 705.00 247.42C703.33 247.09 701.67 246.76 700.00 246.46C698.33 246.16 696.67 245.86 695.00 245.63C693.33 245.39 691.67 245.21 690.00 245.03C688.33 244.85 686.67 244.69 685.00 244.52C683.33 244.35 681.67 244.18 680.00 244.01C678.33 243.85 676.67 243.68 675.00 243.51C673.33 243.34 671.67 243.17 670.00 243.01C668.33 242.84 666.67 242.67 665.00 242.50C663.33 242.33 661.67 242.17 660.00 241.99C658.33 241.82 656.67 241.64 655.00 241.45C653.33 241.27 651.67 241.07 650.00 240.88C648.33 240.69 646.67 240.50 645.00 240.31C643.33 240.12 641.67 239.93 640.00 239.74C638.33 239.54 636.67 239.36 635.00 239.15C633.33 238.94 631.67 238.72 630.00 238.49C628.33 238.26 626.67 238.01 625.00 237.77C623.33 237.53 621.67 237.28 620.00 237.04C618.33 236.79 616.67 236.55 615.00 236.31C613.33 236.06 611.67 235.82 610.00 235.57C608.33 235.33 606.67 235.09 605.00 234.82C603.33 234.56 601.67 234.28 600.00 233.98C598.33 233.68 596.67 233.35 595.00 233.03C593.33 232.70 591.67 232.37 590.00 232.04C588.33 231.71 586.67 231.38 585.00 231.04C583.33 230.70 581.67 230.35 580.00 229.99C578.33 229.62 576.67 229.25 575.00 228.87C573.33 228.49 571.67 228.10 570.00 227.71C568.33 227.31 566.67 226.91 565.00 226.50C563.33 226.09 561.67 225.67 560.00 225.24C558.33 224.81 556.67 224.37 555.00 223.92C553.33 223.47 551.67 223.01 550.00 222.54C548.33 222.07 546.67 221.59 545.00 221.09C543.33 220.60 541.67 220.09 540.00 219.57C538.33 219.05 536.67 218.52 535.00 217.98C533.33 217.44 531.67 216.88 530.00 216.31C528.33 215.75 526.67 215.17 525.00 214.58C523.33 213.99 521.67 213.39 520.00 212.77C518.33 212.16 516.67 211.54 515.00 210.90C513.33 210.27 511.67 209.62 510.00 208.96C508.33 208.31 506.67 207.64 505.00 206.98C503.33 206.31 501.67 205.64 500.00 204.98C498.33 204.31 496.67 203.65 495.00 202.99C493.33 202.33 490.83 201.34 490.00 201.01Z" fill="#F0E442" fill-opacity="0.75" stroke="#F0E442" stroke-opacity="0.75" stroke-width="0.9" stroke-linejoin="round"/>
<path d="M490.00 22.48C490.83 23.50 493.33 26.57 495.00 28.60C496.67 30.63 498.33 32.66 500.00 34.69C501.67 36.72 503.33 38.73 505.00 40.76C506.67 42.79 508.33 44.81 510.00 46.85C511.67 48.89 513.33 50.93 515.00 53.00C516.67 55.07 518.33 57.16 520.00 59.26C521.67 61.37 523.33 63.50 525.00 65.63C526.67 67.76 528.33 69.92 530.00 72.04C531.67 74.17 533.33 76.31 535.00 78.39C536.67 80.47 538.33 82.53 540.00 84.52C541.67 86.51 543.33 88.45 545.00 90.32C546.67 92.19 548.33 93.98 550.00 95.73C551.67 97.47 553.33 99.14 555.00 100.79C556.67 102.44 558.33 104.02 560.00 105.61C561.67 107.19 563.33 108.73 565.00 110.29C566.67 111.84 568.33 113.38 570.00 114.93C571.67 116.49 573.33 118.04 575.00 119.62C576.67 121.20 578.33 122.78 580.00 124.41C581.67 126.04 583.33 127.74 585.00 129.40C586.67 131.06 588.33 132.81 590.00 134.37C591.67 135.92 593.33 137.35 595.00 138.74C596.67 140.13 598.33 141.39 600.00 142.69C601.67 143.99 603.33 145.27 605.00 146.55C606.67 147.82 608.33 149.09 610.00 150.35C611.67 151.61 613.33 152.89 615.00 154.11C616.67 155.32 618.33 156.50 620.00 157.66C621.67 158.81 623.33 159.95 625.00 161.06C626.67 162.16 628.33 163.30 630.00 164.29C631.67 165.28 633.33 166.16 635.00 167.00C636.67 167.84 638.33 168.64 640.00 169.32C641.67 169.99 643.33 170.57 645.00 171.07C646.67 171.57 648.33 171.92 650.00 172.32C651.67 172.73 653.33 173.12 655.00 173.47C656.67 173.83 658.33 174.16 660.00 174.43C661.67 174.71 663.33 174.94 665.00 175.11C666.67 175.28 668.33 175.40 670.00 175.45C671.67 175.49 673.33 175.49 675.00 175.38C676.67 175.28 678.33 175.08 680.00 174.80C681.67 174.52 683.33 174.16 685.00 173.70C686.67 173.25 688.33 172.67 690.00 172.05C691.67 171.43 693.33 170.72 695.00 169.99C696.67 169.26 698.33 168.47 700.00 167.65C701.67 166.83 703.33 165.98 705.00 165.06C706.67 164.15 708.33 163.17 710.00 162.18C711.67 161.19 713.33 160.16 715.00 159.13C716.67 158.10 718.33 157.07 720.00 155.99C721.67 154.92 723.33 153.83 725.00 152.66C726.67 151.50 728.33 150.23 730.00 149.01C731.67 147.79 733.33 146.45 735.00 145.35C736.67 144.24 738.33 143.17 740.00 142.36C741.67 141.55 743.33 140.95 745.00 140.51C746.67 140.07 748.33 139.72 750.00 139.73C751.67 139.75 753.33 139.95 755.00 140.61C756.67 141.28 758.33 142.23 760.00 143.72C761.67 145.21 763.33 147.21 765.00 149.55C766.67 151.89 768.33 154.50 770.00 157.78C771.67 161.07 773.33 164.49 775.00 169.27C776.67 174.05 778.33 180.21 780.00 186.46C781.67 192.71 783.33 200.65 785.00 206.77C786.67 212.89 788.33 217.89 790.00 223.18C791.67 228.47 793.33 233.80 795.00 238.51C796.67 243.22 798.33 247.99 800.00 251.43C801.67 254.88 803.50 257.40 805.00 259.19C806.50 260.98 808.33 261.67 809.00 262.17L809.00 262.44C808.33 262.12 806.50 261.89 805.00 260.50C803.50 259.11 801.67 257.19 800.00 254.10C798.33 251.00 796.67 246.45 795.00 241.92C793.33 237.39 791.67 231.85 790.00 226.91C788.33 221.97 786.67 216.92 785.00 212.29C783.33 207.66 781.67 203.55 780.00 199.12C778.33 194.70 776.67 189.95 775.00 185.73C773.33 181.50 771.67 177.34 770.00 173.77C768.33 170.20 766.67 166.94 765.00 164.31C763.33 161.68 761.67 159.54 760.00 158.01C758.33 156.48 756.67 155.71 755.00 155.13C753.33 154.56 751.67 154.48 750.00 154.58C748.33 154.68 746.67 155.21 745.00 155.76C743.33 156.31 741.67 156.95 740.00 157.89C738.33 158.83 736.67 160.09 735.00 161.39C733.33 162.70 731.67 164.32 730.00 165.75C728.33 167.17 726.67 168.70 725.00 169.93C723.33 171.16 721.67 172.16 720.00 173.14C718.33 174.12 716.67 174.92 715.00 175.81C713.33 176.71 711.67 177.61 710.00 178.49C708.33 179.38 706.67 180.28 705.00 181.14C703.33 182.00 701.67 182.83 700.00 183.67C698.33 184.51 696.67 185.33 695.00 186.17C693.33 187.02 691.67 187.86 690.00 188.73C688.33 189.60 686.67 190.48 685.00 191.40C683.33 192.32 681.67 193.27 680.00 194.24C678.33 195.21 676.67 196.21 675.00 197.23C673.33 198.24 671.67 199.33 670.00 200.33C668.33 201.32 666.67 202.34 665.00 203.20C663.33 204.05 661.67 204.78 660.00 205.47C658.33 206.16 656.67 206.78 655.00 207.32C653.33 207.86 651.67 208.32 650.00 208.72C648.33 209.13 646.67 209.49 645.00 209.74C643.33 209.99 641.67 210.12 640.00 210.24C638.33 210.36 636.67 210.43 635.00 210.44C633.33 210.46 631.67 210.40 630.00 210.33C628.33 210.25 626.67 210.13 625.00 209.99C623.33 209.85 621.67 209.69 620.00 209.50C618.33 209.32 616.67 209.10 615.00 208.86C613.33 208.61 611.67 208.37 610.00 208.04C608.33 207.70 606.67 207.27 605.00 206.84C603.33 206.40 601.67 205.91 600.00 205.40C598.33 204.89 596.67 204.34 595.00 203.77C593.33 203.20 591.67 202.62 590.00 201.99C588.33 201.36 586.67 200.67 585.00 200.00C583.33 199.32 581.67 198.60 580.00 197.91C578.33 197.23 576.67 196.56 575.00 195.88C573.33 195.21 571.67 194.54 570.00 193.87C568.33 193.20 566.67 192.53 565.00 191.86C563.33 191.18 561.67 190.50 560.00 189.80C558.33 189.11 556.67 188.40 555.00 187.68C553.33 186.95 551.67 186.20 550.00 185.44C548.33 184.67 546.67 183.87 545.00 183.06C543.33 182.25 541.67 181.41 540.00 180.55C538.33 179.70 536.67 178.82 535.00 177.93C533.33 177.03 531.67 176.12 530.00 175.20C528.33 174.28 526.67 173.35 525.00 172.40C523.33 171.45 521.67 170.49 520.00 169.52C518.33 168.55 516.67 167.57 515.00 166.58C513.33 165.58 511.67 164.58 510.00 163.56C508.33 162.54 506.67 161.51 505.00 160.48C503.33 159.44 501.67 158.39 500.00 157.35C498.33 156.30 496.67 155.24 495.00 154.18C493.33 153.12 490.83 151.53 490.00 151.00Z" fill="#D55E00" fill-opacity="0.75" stroke="#D55E00" stroke-opacity="0.75" stroke-width="0.9" stroke-linejoin="round"/>
<path d="M490.00 22.97C490.83 24.01 493.33 27.11 495.00 29.17C496.67 31.23 498.33 33.28 500.00 35.32C501.67 37.37 503.33 39.40 505.00 41.43C506.67 43.47 508.33 45.49 510.00 47.54C511.67 49.58 513.33 51.63 515.00 53.70C516.67 55.77 518.33 57.86 520.00 59.96C521.67 62.07 523.33 64.20 525.00 66.33C526.67 68.46 528.33 70.62 530.00 72.74C531.67 74.87 533.33 77.01 535.00 79.09C536.67 81.18 538.33 83.25 540.00 85.24C541.67 87.24 543.33 89.19 545.00 91.07C546.67 92.94 548.33 94.75 550.00 96.51C551.67 98.28 553.33 99.96 555.00 101.63C556.67 103.30 558.33 104.92 560.00 106.53C561.67 108.15 563.33 109.73 565.00 111.33C566.67 112.93 568.33 114.53 570.00 116.15C571.67 117.78 573.33 119.42 575.00 121.10C576.67 122.79 578.33 124.49 580.00 126.27C581.67 128.05 583.33 129.98 585.00 131.77C586.67 133.56 588.33 135.42 590.00 137.02C591.67 138.63 593.33 140.00 595.00 141.40C596.67 142.81 598.33 144.11 600.00 145.45C601.67 146.79 603.33 148.12 605.00 149.45C606.67 150.78 608.33 152.09 610.00 153.43C611.67 154.76 613.33 156.08 615.00 157.45C616.67 158.83 618.33 160.25 620.00 161.66C621.67 163.08 623.33 164.54 625.00 165.94C626.67 167.34 628.33 168.73 630.00 170.08C631.67 171.43 633.33 172.78 635.00 174.03C636.67 175.27 638.33 176.42 640.00 177.54C641.67 178.67 643.33 179.72 645.00 180.78C646.67 181.84 648.33 182.89 650.00 183.90C651.67 184.91 653.33 185.86 655.00 186.83C656.67 187.79 658.33 188.72 660.00 189.67C661.67 190.62 663.33 191.56 665.00 192.52C666.67 193.47 668.33 194.45 670.00 195.40C671.67 196.35 673.33 197.33 675.00 198.21C676.67 199.09 678.33 199.91 680.00 200.68C681.67 201.45 683.33 202.16 685.00 202.84C686.67 203.53 688.33 204.20 690.00 204.77C691.67 205.33 693.33 205.78 695.00 206.24C696.67 206.69 698.33 207.06 700.00 207.52C701.67 207.97 703.33 208.41 705.00 208.98C706.67 209.54 708.33 210.23 710.00 210.92C711.67 211.60 713.33 212.34 715.00 213.09C716.67 213.85 718.33 214.59 720.00 215.44C721.67 216.29 723.33 217.23 725.00 218.18C726.67 219.12 728.33 220.10 730.00 221.10C731.67 222.11 733.33 223.02 735.00 224.22C736.67 225.43 738.33 226.83 740.00 228.33C741.67 229.84 743.33 231.68 745.00 233.27C746.67 234.86 748.33 236.39 750.00 237.86C751.67 239.34 753.33 240.75 755.00 242.12C756.67 243.50 758.33 244.83 760.00 246.11C761.67 247.39 763.33 248.62 765.00 249.79C766.67 250.96 768.33 252.10 770.00 253.12C771.67 254.13 773.33 255.05 775.00 255.88C776.67 256.70 778.33 257.45 780.00 258.09C781.67 258.73 783.33 259.24 785.00 259.71C786.67 260.18 788.33 260.58 790.00 260.89C791.67 261.21 793.33 261.44 795.00 261.62C796.67 261.80 798.33 261.86 800.00 261.97C801.67 262.08 803.50 262.18 805.00 262.26C806.50 262.35 808.33 262.46 809.00 262.50L809.00 262.50C808.33 262.47 806.50 262.37 805.00 262.30C803.50 262.22 801.67 262.13 800.00 262.05C798.33 261.97 796.67 261.88 795.00 261.80C793.33 261.72 791.67 261.64 790.00 261.55C788.33 261.45 786.67 261.38 785.00 261.22C783.33 261.06 781.67 260.84 780.00 260.57C778.33 260.30 776.67 259.99 775.00 259.60C773.33 259.21 771.67 258.76 770.00 258.22C768.33 257.67 766.67 257.01 765.00 256.32C763.33 255.63 761.67 254.89 760.00 254.10C758.33 253.31 756.67 252.48 755.00 251.60C753.33 250.73 751.67 249.81 750.00 248.85C748.33 247.89 746.67 246.89 745.00 245.84C743.33 244.80 741.67 243.62 740.00 242.59C738.33 241.56 736.67 240.57 735.00 239.68C733.33 238.79 731.67 238.04 730.00 237.24C728.33 236.44 726.67 235.67 725.00 234.89C723.33 234.11 721.67 233.29 720.00 232.55C718.33 231.80 716.67 231.03 715.00 230.42C713.33 229.80 711.67 229.33 710.00 228.86C708.33 228.38 706.67 227.99 705.00 227.56C703.33 227.14 701.67 226.70 700.00 226.31C698.33 225.92 696.67 225.54 695.00 225.24C693.33 224.93 691.67 224.71 690.00 224.48C688.33 224.25 686.67 224.05 685.00 223.83C683.33 223.61 681.67 223.42 680.00 223.17C678.33 222.92 676.67 222.64 675.00 222.34C673.33 222.04 671.67 221.68 670.00 221.39C668.33 221.10 666.67 220.85 665.00 220.60C663.33 220.34 661.67 220.12 660.00 219.88C658.33 219.63 656.67 219.38 655.00 219.13C653.33 218.88 651.67 218.62 650.00 218.36C648.33 218.09 646.67 217.83 645.00 217.57C643.33 217.30 641.67 217.04 640.00 216.77C638.33 216.51 636.67 216.24 635.00 215.97C633.33 215.70 631.67 215.44 630.00 215.15C628.33 214.87 626.67 214.57 625.00 214.27C623.33 213.97 621.67 213.66 620.00 213.35C618.33 213.04 616.67 212.77 615.00 212.41C613.33 212.06 611.67 211.73 610.00 211.23C608.33 210.74 606.67 210.08 605.00 209.43C603.33 208.79 601.67 208.07 600.00 207.36C598.33 206.65 596.67 205.93 595.00 205.20C593.33 204.47 591.67 203.73 590.00 202.99C588.33 202.25 586.67 201.49 585.00 200.75C583.33 200.01 581.67 199.27 580.00 198.55C578.33 197.83 576.67 197.14 575.00 196.44C573.33 195.75 571.67 195.08 570.00 194.40C568.33 193.71 566.67 193.04 565.00 192.36C563.33 191.68 561.67 191.00 560.00 190.30C558.33 189.61 556.67 188.90 555.00 188.18C553.33 187.45 551.67 186.70 550.00 185.94C548.33 185.17 546.67 184.37 545.00 183.56C543.33 182.75 541.67 181.91 540.00 181.05C538.33 180.20 536.67 179.32 535.00 178.43C533.33 177.53 531.67 176.62 530.00 175.70C528.33 174.78 526.67 173.85 525.00 172.90C523.33 171.95 521.67 170.99 520.00 170.02C518.33 169.05 516.67 168.07 515.00 167.08C513.33 166.08 511.67 165.08 510.00 164.06C508.33 163.04 506.67 162.01 505.00 160.98C503.33 159.94 501.67 158.89 500.00 157.85C498.33 156.80 496.67 155.74 495.00 154.68C493.33 153.62 490.83 152.03 490.00 151.50Z" fill="#CC79A7" fill-opacity="0.75" stroke="#CC79A7" stroke-opacity="0.75" stroke-width="0.9" stroke-linejoin="round"/>
<path d="M490.00 35.05C490.83 36.09 493.33 39.18 495.00 41.27C496.67 43.36 498.33 45.46 500.00 47.58C501.67 49.70 503.33 51.84 505.00 53.99C506.67 56.14 508.33 58.31 510.00 60.48C511.67 62.64 513.33 64.82 515.00 66.97C516.67 69.13 518.33 71.29 520.00 73.43C521.67 75.56 523.33 77.69 525.00 79.79C526.67 81.89 528.33 83.97 530.00 86.02C531.67 88.08 533.33 90.10 535.00 92.10C536.67 94.10 538.33 96.07 540.00 98.01C541.67 99.96 543.33 101.87 545.00 103.75C546.67 105.64 548.33 107.50 550.00 109.31C551.67 111.12 553.33 112.89 555.00 114.62C556.67 116.34 558.33 118.01 560.00 119.64C561.67 121.28 563.33 122.85 565.00 124.41C566.67 125.97 568.33 127.48 570.00 128.99C571.67 130.50 573.33 131.99 575.00 133.48C576.67 134.97 578.33 136.45 580.00 137.93C581.67 139.42 583.33 140.92 585.00 142.37C586.67 143.83 588.33 145.28 590.00 146.66C591.67 148.03 593.33 149.33 595.00 150.64C596.67 151.94 598.33 153.23 600.00 154.48C601.67 155.74 603.33 156.96 605.00 158.15C606.67 159.35 608.33 160.53 610.00 161.65C611.67 162.78 613.33 163.92 615.00 164.91C616.67 165.89 618.33 166.73 620.00 167.55C621.67 168.37 623.33 169.11 625.00 169.84C626.67 170.57 628.33 171.26 630.00 171.95C631.67 172.63 633.33 173.27 635.00 173.95C636.67 174.64 638.33 175.38 640.00 176.07C641.67 176.76 643.33 177.53 645.00 178.10C646.67 178.67 648.33 179.08 650.00 179.48C651.67 179.88 653.33 180.18 655.00 180.49C656.67 180.81 658.33 181.11 660.00 181.37C661.67 181.64 663.33 181.91 665.00 182.08C666.67 182.26 668.33 182.39 670.00 182.44C671.67 182.49 673.33 182.49 675.00 182.36C676.67 182.23 678.33 181.99 680.00 181.66C681.67 181.33 683.33 180.89 685.00 180.39C686.67 179.89 688.33 179.30 690.00 178.66C691.67 178.03 693.33 177.32 695.00 176.59C696.67 175.86 698.33 175.06 700.00 174.26C701.67 173.46 703.33 172.62 705.00 171.79C706.67 170.97 708.33 170.12 710.00 169.31C711.67 168.50 713.33 167.69 715.00 166.94C716.67 166.19 718.33 165.52 720.00 164.81C721.67 164.10 723.33 163.42 725.00 162.68C726.67 161.94 728.33 161.15 730.00 160.38C731.67 159.62 733.33 158.78 735.00 158.08C736.67 157.38 738.33 156.64 740.00 156.18C741.67 155.73 743.33 155.36 745.00 155.36C746.67 155.36 748.33 155.71 750.00 156.21C751.67 156.71 753.33 157.41 755.00 158.35C756.67 159.29 758.33 160.23 760.00 161.85C761.67 163.48 763.33 165.39 765.00 168.12C766.67 170.85 768.33 174.50 770.00 178.22C771.67 181.95 773.33 186.20 775.00 190.47C776.67 194.74 778.33 199.50 780.00 203.85C781.67 208.19 783.33 212.16 785.00 216.55C786.67 220.93 788.33 225.57 790.00 230.16C791.67 234.74 793.33 239.93 795.00 244.05C796.67 248.16 798.33 252.13 800.00 254.84C801.67 257.55 803.50 259.08 805.00 260.31C806.50 261.55 808.33 261.93 809.00 262.25L809.00 262.46C808.33 262.22 806.50 262.01 805.00 261.02C803.50 260.03 801.67 258.91 800.00 256.52C798.33 254.13 796.67 250.60 795.00 246.69C793.33 242.77 791.67 237.59 790.00 233.01C788.33 228.42 786.67 223.35 785.00 219.20C783.33 215.05 781.67 211.32 780.00 208.11C778.33 204.89 776.67 202.63 775.00 199.92C773.33 197.21 771.67 194.76 770.00 191.85C768.33 188.93 766.67 185.40 765.00 182.42C763.33 179.44 761.67 176.27 760.00 173.96C758.33 171.65 756.67 169.93 755.00 168.56C753.33 167.19 751.67 166.30 750.00 165.74C748.33 165.17 746.67 165.07 745.00 165.18C743.33 165.29 741.67 165.79 740.00 166.40C738.33 167.01 736.67 167.93 735.00 168.83C733.33 169.73 731.67 170.83 730.00 171.82C728.33 172.82 726.67 173.86 725.00 174.80C723.33 175.75 721.67 176.61 720.00 177.49C718.33 178.37 716.67 179.19 715.00 180.10C713.33 181.01 711.67 181.99 710.00 182.94C708.33 183.89 706.67 184.88 705.00 185.79C703.33 186.71 701.67 187.56 700.00 188.42C698.33 189.28 696.67 190.11 695.00 190.94C693.33 191.78 691.67 192.62 690.00 193.44C688.33 194.25 686.67 195.05 685.00 195.82C683.33 196.58 681.67 197.32 680.00 198.02C678.33 198.72 676.67 199.40 675.00 200.01C673.33 200.62 671.67 201.21 670.00 201.70C668.33 202.18 666.67 202.60 665.00 202.91C663.33 203.22 661.67 203.43 660.00 203.55C658.33 203.68 656.67 203.67 655.00 203.66C653.33 203.65 651.67 203.60 650.00 203.51C648.33 203.42 646.67 203.29 645.00 203.13C643.33 202.97 641.67 202.75 640.00 202.56C638.33 202.36 636.67 202.15 635.00 201.94C633.33 201.74 631.67 201.53 630.00 201.31C628.33 201.08 626.67 200.84 625.00 200.60C623.33 200.35 621.67 200.09 620.00 199.83C618.33 199.58 616.67 199.35 615.00 199.06C613.33 198.76 611.67 198.49 610.00 198.07C608.33 197.64 606.67 197.09 605.00 196.52C603.33 195.95 601.67 195.30 600.00 194.66C598.33 194.01 596.67 193.33 595.00 192.66C593.33 191.99 591.67 191.31 590.00 190.64C588.33 189.98 586.67 189.32 585.00 188.66C583.33 188.00 581.67 187.34 580.00 186.68C578.33 186.03 576.67 185.37 575.00 184.72C573.33 184.06 571.67 183.42 570.00 182.77C568.33 182.13 566.67 181.49 565.00 180.85C563.33 180.21 561.67 179.58 560.00 178.92C558.33 178.27 556.67 177.61 555.00 176.91C553.33 176.21 551.67 175.48 550.00 174.72C548.33 173.95 546.67 173.14 545.00 172.31C543.33 171.48 541.67 170.61 540.00 169.73C538.33 168.86 536.67 167.95 535.00 167.05C533.33 166.15 531.67 165.24 530.00 164.34C528.33 163.43 526.67 162.52 525.00 161.62C523.33 160.71 521.67 159.81 520.00 158.90C518.33 158.00 516.67 157.10 515.00 156.20C513.33 155.30 511.67 154.40 510.00 153.50C508.33 152.61 506.67 151.71 505.00 150.82C503.33 149.92 501.67 149.03 500.00 148.14C498.33 147.25 496.67 146.36 495.00 145.47C493.33 144.58 490.83 143.25 490.00 142.80Z" fill="#0072B2" fill-opacity="0.75" stroke="#0072B2" stroke-opacity="0.75" stroke-width="0.9" stroke-linejoin="round"/>
<path d="M490.00 35.89C490.83 36.94 493.33 40.07 495.00 42.17C496.67 44.28 498.33 46.39 500.00 48.51C501.67 50.63 503.33 52.76 505.00 54.90C506.67 57.04 508.33 59.19 510.00 61.33C511.67 63.48 513.33 65.63 515.00 67.77C516.67 69.91 518.33 72.05 520.00 74.18C521.67 76.30 523.33 78.41 525.00 80.50C526.67 82.59 528.33 84.67 530.00 86.72C531.67 88.77 533.33 90.80 535.00 92.80C536.67 94.80 538.33 96.78 540.00 98.73C541.67 100.68 543.33 102.60 545.00 104.49C546.67 106.38 548.33 108.24 550.00 110.07C551.67 111.90 553.33 113.69 555.00 115.45C556.67 117.21 558.33 118.93 560.00 120.63C561.67 122.32 563.33 123.99 565.00 125.63C566.67 127.28 568.33 128.90 570.00 130.51C571.67 132.12 573.33 133.71 575.00 135.30C576.67 136.88 578.33 138.46 580.00 140.04C581.67 141.62 583.33 143.21 585.00 144.78C586.67 146.34 588.33 147.91 590.00 149.41C591.67 150.91 593.33 152.35 595.00 153.78C596.67 155.21 598.33 156.61 600.00 157.99C601.67 159.37 603.33 160.73 605.00 162.05C606.67 163.38 608.33 164.69 610.00 165.94C611.67 167.19 613.33 168.46 615.00 169.56C616.67 170.66 618.33 171.61 620.00 172.54C621.67 173.48 623.33 174.33 625.00 175.17C626.67 176.02 628.33 176.81 630.00 177.62C631.67 178.44 633.33 179.20 635.00 180.07C636.67 180.94 638.33 181.91 640.00 182.84C641.67 183.76 643.33 184.80 645.00 185.62C646.67 186.44 648.33 187.11 650.00 187.77C651.67 188.43 653.33 188.93 655.00 189.58C656.67 190.23 658.33 190.91 660.00 191.67C661.67 192.42 663.33 193.27 665.00 194.12C666.67 194.97 668.33 195.88 670.00 196.77C671.67 197.66 673.33 198.61 675.00 199.47C676.67 200.33 678.33 201.14 680.00 201.91C681.67 202.68 683.33 203.41 685.00 204.11C686.67 204.80 688.33 205.48 690.00 206.06C691.67 206.63 693.33 207.07 695.00 207.53C696.67 207.99 698.33 208.36 700.00 208.82C701.67 209.27 703.33 209.71 705.00 210.28C706.67 210.84 708.33 211.53 710.00 212.22C711.67 212.90 713.33 213.64 715.00 214.40C716.67 215.15 718.33 215.90 720.00 216.75C721.67 217.60 723.33 218.55 725.00 219.50C726.67 220.46 728.33 221.44 730.00 222.46C731.67 223.47 733.33 224.39 735.00 225.60C736.67 226.80 738.33 228.19 740.00 229.69C741.67 231.19 743.33 233.00 745.00 234.58C746.67 236.16 748.33 237.69 750.00 239.16C751.67 240.64 753.33 242.05 755.00 243.42C756.67 244.80 758.33 246.13 760.00 247.40C761.67 248.68 763.33 249.91 765.00 251.06C766.67 252.21 768.33 253.34 770.00 254.32C771.67 255.31 773.33 256.18 775.00 256.97C776.67 257.75 778.33 258.44 780.00 259.01C781.67 259.58 783.33 260.01 785.00 260.40C786.67 260.78 788.33 261.08 790.00 261.33C791.67 261.57 793.33 261.74 795.00 261.88C796.67 262.01 798.33 262.05 800.00 262.13C801.67 262.21 803.50 262.27 805.00 262.34C806.50 262.40 808.33 262.47 809.00 262.50L809.00 262.50C808.33 262.46 806.50 262.36 805.00 262.27C803.50 262.18 801.67 262.08 800.00 261.98C798.33 261.88 796.67 261.79 795.00 261.69C793.33 261.60 791.67 261.51 790.00 261.40C788.33 261.29 786.67 261.21 785.00 261.02C783.33 260.82 781.67 260.55 780.00 260.22C778.33 259.89 776.67 259.50 775.00 259.05C773.33 258.59 771.67 258.08 770.00 257.47C768.33 256.86 766.67 256.15 765.00 255.40C763.33 254.64 761.67 253.81 760.00 252.94C758.33 252.06 756.67 251.11 755.00 250.15C753.33 249.18 751.67 248.18 750.00 247.14C748.33 246.09 746.67 245.01 745.00 243.88C743.33 242.74 741.67 241.42 740.00 240.32C738.33 239.22 736.67 238.18 735.00 237.28C733.33 236.38 731.67 235.68 730.00 234.91C728.33 234.14 726.67 233.41 725.00 232.67C723.33 231.92 721.67 231.15 720.00 230.43C718.33 229.72 716.67 228.98 715.00 228.37C713.33 227.77 711.67 227.29 710.00 226.80C708.33 226.32 706.67 225.90 705.00 225.46C703.33 225.02 701.67 224.58 700.00 224.14C698.33 223.70 696.67 223.26 695.00 222.83C693.33 222.40 691.67 221.97 690.00 221.55C688.33 221.12 686.67 220.69 685.00 220.28C683.33 219.87 681.67 219.46 680.00 219.10C678.33 218.74 676.67 218.41 675.00 218.11C673.33 217.80 671.67 217.52 670.00 217.27C668.33 217.01 666.67 216.80 665.00 216.58C663.33 216.35 661.67 216.16 660.00 215.93C658.33 215.69 656.67 215.44 655.00 215.16C653.33 214.89 651.67 214.59 650.00 214.27C648.33 213.94 646.67 213.58 645.00 213.20C643.33 212.82 641.67 212.40 640.00 211.99C638.33 211.57 636.67 211.16 635.00 210.70C633.33 210.24 631.67 209.73 630.00 209.22C628.33 208.70 626.67 208.15 625.00 207.61C623.33 207.07 621.67 206.53 620.00 205.97C618.33 205.41 616.67 204.85 615.00 204.24C613.33 203.64 611.67 203.03 610.00 202.32C608.33 201.61 606.67 200.80 605.00 199.99C603.33 199.18 601.67 198.32 600.00 197.47C598.33 196.63 596.67 195.77 595.00 194.93C593.33 194.10 591.67 193.25 590.00 192.46C588.33 191.66 586.67 190.91 585.00 190.17C583.33 189.43 581.67 188.73 580.00 188.01C578.33 187.30 576.67 186.59 575.00 185.89C573.33 185.19 571.67 184.50 570.00 183.81C568.33 183.13 566.67 182.46 565.00 181.78C563.33 181.10 561.67 180.44 560.00 179.74C558.33 179.05 556.67 178.36 555.00 177.63C553.33 176.90 551.67 176.15 550.00 175.36C548.33 174.56 546.67 173.73 545.00 172.88C543.33 172.03 541.67 171.14 540.00 170.24C538.33 169.35 536.67 168.43 535.00 167.51C533.33 166.60 531.67 165.67 530.00 164.75C528.33 163.83 526.67 162.91 525.00 161.99C523.33 161.07 521.67 160.15 520.00 159.24C518.33 158.32 516.67 157.41 515.00 156.50C513.33 155.59 511.67 154.68 510.00 153.77C508.33 152.86 506.67 151.96 505.00 151.06C503.33 150.16 501.67 149.26 500.00 148.36C498.33 147.46 496.67 146.57 495.00 145.68C493.33 144.79 490.83 143.45 490.00 143.01Z" fill="#56B4E9" fill-opacity="0.75" stroke="#56B4E9" stroke-opacity="0.75" stroke-width="0.9" stroke-linejoin="round"/>
<path d="M490.00 81.99C490.83 82.73 493.33 84.97 495.00 86.45C496.67 87.93 498.33 89.41 500.00 90.89C501.67 92.36 503.33 93.84 505.00 95.30C506.67 96.77 508.33 98.23 510.00 99.69C511.67 101.14 513.33 102.59 515.00 104.03C516.67 105.47 518.33 106.90 520.00 108.33C521.67 109.75 523.33 111.17 525.00 112.59C526.67 114.01 528.33 115.42 530.00 116.84C531.67 118.26 533.33 119.68 535.00 121.11C536.67 122.53 538.33 123.96 540.00 125.39C541.67 126.82 543.33 128.26 545.00 129.70C546.67 131.14 548.33 132.59 550.00 134.03C551.67 135.47 553.33 136.92 555.00 138.34C556.67 139.77 558.33 141.20 560.00 142.59C561.67 143.98 563.33 145.36 565.00 146.67C566.67 147.98 568.33 149.26 570.00 150.46C571.67 151.66 573.33 152.80 575.00 153.88C576.67 154.97 578.33 155.98 580.00 156.94C581.67 157.91 583.33 158.76 585.00 159.69C586.67 160.61 588.33 161.46 590.00 162.51C591.67 163.56 593.33 164.86 595.00 165.99C596.67 167.13 598.33 168.41 600.00 169.33C601.67 170.24 603.33 170.78 605.00 171.48C606.67 172.19 608.33 172.74 610.00 173.56C611.67 174.37 613.33 175.45 615.00 176.36C616.67 177.27 618.33 178.24 620.00 179.01C621.67 179.79 623.33 180.38 625.00 181.01C626.67 181.65 628.33 182.23 630.00 182.83C631.67 183.42 633.33 184.04 635.00 184.57C636.67 185.10 638.33 185.58 640.00 185.99C641.67 186.40 643.33 186.72 645.00 187.05C646.67 187.38 648.33 187.67 650.00 187.96C651.67 188.25 653.33 188.53 655.00 188.79C656.67 189.04 658.33 189.28 660.00 189.49C661.67 189.69 663.33 189.87 665.00 190.00C666.67 190.13 668.33 190.22 670.00 190.26C671.67 190.29 673.33 190.29 675.00 190.20C676.67 190.11 678.33 189.96 680.00 189.71C681.67 189.47 683.33 189.17 685.00 188.74C686.67 188.31 688.33 187.75 690.00 187.15C691.67 186.54 693.33 185.82 695.00 185.09C696.67 184.36 698.33 183.56 700.00 182.76C701.67 181.96 703.33 181.12 705.00 180.29C706.67 179.47 708.33 178.63 710.00 177.80C711.67 176.97 713.33 176.14 715.00 175.30C716.67 174.46 718.33 173.66 720.00 172.78C721.67 171.91 723.33 171.03 725.00 170.07C726.67 169.10 728.33 168.03 730.00 167.00C731.67 165.98 733.33 164.84 735.00 163.91C736.67 162.98 738.33 162.04 740.00 161.41C741.67 160.79 743.33 160.30 745.00 160.14C746.67 159.98 748.33 160.05 750.00 160.45C751.67 160.85 753.33 161.53 755.00 162.52C756.67 163.51 758.33 164.61 760.00 166.37C761.67 168.12 763.33 170.40 765.00 173.06C766.67 175.71 768.33 178.89 770.00 182.29C771.67 185.68 773.33 189.53 775.00 193.42C776.67 197.31 778.33 201.55 780.00 205.61C781.67 209.67 783.33 213.46 785.00 217.79C786.67 222.12 788.33 226.97 790.00 231.57C791.67 236.16 793.33 241.34 795.00 245.36C796.67 249.38 798.33 253.12 800.00 255.67C801.67 258.23 803.50 259.56 805.00 260.67C806.50 261.79 808.33 262.08 809.00 262.36" fill="none" stroke="#0072B2" stroke-width="1.70" stroke-linejoin="round" stroke-linecap="butt"/>
<path d="M490.00 81.99C490.83 82.82 493.33 85.31 495.00 86.96C496.67 88.62 498.33 90.27 500.00 91.91C501.67 93.56 503.33 95.20 505.00 96.83C506.67 98.47 508.33 100.10 510.00 101.72C511.67 103.34 513.33 104.96 515.00 106.57C516.67 108.18 518.33 109.79 520.00 111.38C521.67 112.97 523.33 114.56 525.00 116.12C526.67 117.69 528.33 119.24 530.00 120.77C531.67 122.29 533.33 123.79 535.00 125.26C536.67 126.72 538.33 128.16 540.00 129.57C541.67 130.98 543.33 132.36 545.00 133.72C546.67 135.08 548.33 136.42 550.00 137.74C551.67 139.07 553.33 140.37 555.00 141.65C556.67 142.93 558.33 144.20 560.00 145.42C561.67 146.64 563.33 147.84 565.00 148.98C566.67 150.12 568.33 151.22 570.00 152.27C571.67 153.33 573.33 154.33 575.00 155.30C576.67 156.27 578.33 157.20 580.00 158.11C581.67 159.02 583.33 159.89 585.00 160.77C586.67 161.65 588.33 162.50 590.00 163.39C591.67 164.29 593.33 165.21 595.00 166.13C596.67 167.04 598.33 167.98 600.00 168.89C601.67 169.81 603.33 170.70 605.00 171.61C606.67 172.51 608.33 173.40 610.00 174.30C611.67 175.20 613.33 176.12 615.00 176.99C616.67 177.86 618.33 178.72 620.00 179.53C621.67 180.33 623.33 181.11 625.00 181.82C626.67 182.54 628.33 183.21 630.00 183.82C631.67 184.44 633.33 185.00 635.00 185.51C636.67 186.02 638.33 186.47 640.00 186.89C641.67 187.30 643.33 187.66 645.00 188.00C646.67 188.34 648.33 188.64 650.00 188.92C651.67 189.20 653.33 189.49 655.00 189.68C656.67 189.88 658.33 190.03 660.00 190.08C661.67 190.12 663.33 190.09 665.00 189.96C666.67 189.83 668.33 189.60 670.00 189.29C671.67 188.97 673.33 188.55 675.00 188.07C676.67 187.60 678.33 187.03 680.00 186.43C681.67 185.83 683.33 185.15 685.00 184.45C686.67 183.76 688.33 183.01 690.00 182.25C691.67 181.48 693.33 180.69 695.00 179.86C696.67 179.03 698.33 178.15 700.00 177.28C701.67 176.42 703.33 175.52 705.00 174.65C706.67 173.79 708.33 172.95 710.00 172.10C711.67 171.26 713.33 170.44 715.00 169.60C716.67 168.76 718.33 168.02 720.00 167.04C721.67 166.06 723.33 165.05 725.00 163.74C726.67 162.42 728.33 160.70 730.00 159.13C731.67 157.56 733.33 155.74 735.00 154.29C736.67 152.85 738.33 151.47 740.00 150.48C741.67 149.48 743.33 148.86 745.00 148.32C746.67 147.78 748.33 147.29 750.00 147.23C751.67 147.17 753.33 147.36 755.00 147.98C756.67 148.61 758.33 149.55 760.00 150.98C761.67 152.41 763.33 154.09 765.00 156.54C766.67 158.99 768.33 161.94 770.00 165.69C771.67 169.44 773.33 174.21 775.00 179.05C776.67 183.89 778.33 189.58 780.00 194.75C781.67 199.92 783.33 205.03 785.00 210.08C786.67 215.12 788.33 219.99 790.00 225.02C791.67 230.05 793.33 235.62 795.00 240.26C796.67 244.91 798.33 249.61 800.00 252.89C801.67 256.16 803.50 258.35 805.00 259.92C806.50 261.49 808.33 261.91 809.00 262.31" fill="none" stroke="#D55E00" stroke-width="1.70" stroke-linejoin="round" stroke-linecap="butt"/>
<path d="M490.00 81.72C490.83 82.51 493.33 84.87 495.00 86.45C496.67 88.03 498.33 89.62 500.00 91.21C501.67 92.81 503.33 94.41 505.00 96.02C506.67 97.63 508.33 99.24 510.00 100.85C511.67 102.46 513.33 104.08 515.00 105.68C516.67 107.29 518.33 108.89 520.00 110.48C521.67 112.07 523.33 113.66 525.00 115.22C526.67 116.79 528.33 118.34 530.00 119.87C531.67 121.39 533.33 122.89 535.00 124.36C536.67 125.82 538.33 127.26 540.00 128.67C541.67 130.08 543.33 131.46 545.00 132.82C546.67 134.19 548.33 135.52 550.00 136.85C551.67 138.18 553.33 139.50 555.00 140.80C556.67 142.09 558.33 143.38 560.00 144.64C561.67 145.91 563.33 147.15 565.00 148.37C566.67 149.58 568.33 150.77 570.00 151.94C571.67 153.11 573.33 154.24 575.00 155.36C576.67 156.48 578.33 157.58 580.00 158.66C581.67 159.75 583.33 160.79 585.00 161.87C586.67 162.95 588.33 163.99 590.00 165.13C591.67 166.27 593.33 167.50 595.00 168.71C596.67 169.93 598.33 171.22 600.00 172.40C601.67 173.58 603.33 174.71 605.00 175.79C606.67 176.88 608.33 177.88 610.00 178.91C611.67 179.93 613.33 180.96 615.00 181.96C616.67 182.96 618.33 183.95 620.00 184.91C621.67 185.87 623.33 186.79 625.00 187.72C626.67 188.65 628.33 189.57 630.00 190.50C631.67 191.43 633.33 192.34 635.00 193.32C636.67 194.29 638.33 195.30 640.00 196.35C641.67 197.39 643.33 198.49 645.00 199.56C646.67 200.64 648.33 201.74 650.00 202.81C651.67 203.87 653.33 205.04 655.00 205.95C656.67 206.85 658.33 207.63 660.00 208.22C661.67 208.80 663.33 209.06 665.00 209.44C666.67 209.82 668.33 210.13 670.00 210.48C671.67 210.83 673.33 211.16 675.00 211.53C676.67 211.90 678.33 212.29 680.00 212.69C681.67 213.09 683.33 213.51 685.00 213.93C686.67 214.34 688.33 214.75 690.00 215.18C691.67 215.61 693.33 216.04 695.00 216.53C696.67 217.01 698.33 217.56 700.00 218.12C701.67 218.67 703.33 219.27 705.00 219.85C706.67 220.43 708.33 220.99 710.00 221.61C711.67 222.23 713.33 222.85 715.00 223.57C716.67 224.29 718.33 225.12 720.00 225.93C721.67 226.74 723.33 227.60 725.00 228.44C726.67 229.28 728.33 230.11 730.00 230.97C731.67 231.82 733.33 232.62 735.00 233.58C736.67 234.53 738.33 235.56 740.00 236.70C741.67 237.85 743.33 239.18 745.00 240.45C746.67 241.72 748.33 243.05 750.00 244.31C751.67 245.56 753.33 246.80 755.00 247.98C756.67 249.15 758.33 250.30 760.00 251.36C761.67 252.43 763.33 253.45 765.00 254.38C766.67 255.31 768.33 256.20 770.00 256.94C771.67 257.68 773.33 258.28 775.00 258.82C776.67 259.35 778.33 259.77 780.00 260.13C781.67 260.50 783.33 260.79 785.00 261.00C786.67 261.21 788.33 261.29 790.00 261.40C791.67 261.52 793.33 261.60 795.00 261.69C796.67 261.79 798.33 261.88 800.00 261.98C801.67 262.08 803.50 262.18 805.00 262.27C806.50 262.36 808.33 262.46 809.00 262.50" fill="none" stroke="#56B4E9" stroke-width="1.50" stroke-linejoin="round" stroke-linecap="butt"/>
<path d="M490.00 83.02C490.83 83.81 493.33 86.17 495.00 87.75C496.67 89.33 498.33 90.92 500.00 92.51C501.67 94.11 503.33 95.71 505.00 97.32C506.67 98.93 508.33 100.54 510.00 102.15C511.67 103.76 513.33 105.38 515.00 106.98C516.67 108.59 518.33 110.19 520.00 111.78C521.67 113.37 523.33 114.96 525.00 116.52C526.67 118.09 528.33 119.64 530.00 121.17C531.67 122.69 533.33 124.19 535.00 125.66C536.67 127.12 538.33 128.56 540.00 129.97C541.67 131.38 543.33 132.76 545.00 134.12C546.67 135.49 548.33 136.82 550.00 138.15C551.67 139.48 553.33 140.80 555.00 142.10C556.67 143.39 558.33 144.68 560.00 145.94C561.67 147.20 563.33 148.45 565.00 149.66C566.67 150.88 568.33 152.07 570.00 153.22C571.67 154.38 573.33 155.51 575.00 156.62C576.67 157.73 578.33 158.80 580.00 159.87C581.67 160.93 583.33 161.97 585.00 163.01C586.67 164.04 588.33 165.07 590.00 166.09C591.67 167.11 593.33 168.12 595.00 169.13C596.67 170.14 598.33 171.15 600.00 172.15C601.67 173.16 603.33 174.16 605.00 175.16C606.67 176.16 608.33 177.16 610.00 178.15C611.67 179.15 613.33 180.14 615.00 181.13C616.67 182.11 618.33 183.08 620.00 184.04C621.67 185.00 623.33 185.94 625.00 186.87C626.67 187.80 628.33 188.71 630.00 189.62C631.67 190.54 633.33 191.41 635.00 192.36C636.67 193.32 638.33 194.31 640.00 195.34C641.67 196.36 643.33 197.46 645.00 198.53C646.67 199.59 648.33 200.69 650.00 201.74C651.67 202.80 653.33 203.97 655.00 204.86C656.67 205.75 658.33 206.53 660.00 207.11C661.67 207.68 663.33 207.94 665.00 208.30C666.67 208.67 668.33 208.97 670.00 209.31C671.67 209.65 673.33 209.98 675.00 210.35C676.67 210.71 678.33 211.09 680.00 211.49C681.67 211.89 683.33 212.31 685.00 212.73C686.67 213.14 688.33 213.55 690.00 213.98C691.67 214.41 693.33 214.84 695.00 215.33C696.67 215.81 698.33 216.36 700.00 216.92C701.67 217.47 703.33 218.07 705.00 218.65C706.67 219.23 708.33 219.79 710.00 220.41C711.67 221.03 713.33 221.65 715.00 222.37C716.67 223.09 718.33 223.92 720.00 224.73C721.67 225.54 723.33 226.40 725.00 227.24C726.67 228.08 728.33 228.91 730.00 229.77C731.67 230.62 733.33 231.42 735.00 232.38C736.67 233.34 738.33 234.36 740.00 235.51C741.67 236.66 743.33 238.01 745.00 239.30C746.67 240.59 748.33 241.96 750.00 243.25C751.67 244.53 753.33 245.81 755.00 247.02C756.67 248.23 758.33 249.41 760.00 250.52C761.67 251.63 763.33 252.69 765.00 253.67C766.67 254.65 768.33 255.60 770.00 256.38C771.67 257.17 773.33 257.82 775.00 258.40C776.67 258.98 778.33 259.45 780.00 259.85C781.67 260.25 783.33 260.57 785.00 260.81C786.67 261.04 788.33 261.12 790.00 261.25C791.67 261.38 793.33 261.48 795.00 261.58C796.67 261.69 798.33 261.80 800.00 261.91C801.67 262.02 803.50 262.14 805.00 262.24C806.50 262.34 808.33 262.46 809.00 262.50" fill="none" stroke="#CC79A7" stroke-width="1.60" stroke-linejoin="round" stroke-linecap="butt"/>
<path d="M490.00 165.52C490.83 165.90 493.33 167.05 495.00 167.82C496.67 168.60 498.33 169.38 500.00 170.17C501.67 170.96 503.33 171.75 505.00 172.57C506.67 173.38 508.33 174.20 510.00 175.05C511.67 175.89 513.33 176.74 515.00 177.62C516.67 178.50 518.33 179.40 520.00 180.31C521.67 181.22 523.33 182.16 525.00 183.09C526.67 184.02 528.33 184.96 530.00 185.89C531.67 186.81 533.33 187.73 535.00 188.62C536.67 189.50 538.33 190.37 540.00 191.19C541.67 192.02 543.33 192.81 545.00 193.57C546.67 194.34 548.33 195.06 550.00 195.78C551.67 196.50 553.33 197.20 555.00 197.89C556.67 198.58 558.33 199.27 560.00 199.95C561.67 200.63 563.33 201.31 565.00 201.99C566.67 202.67 568.33 203.35 570.00 204.02C571.67 204.69 573.33 205.36 575.00 206.02C576.67 206.68 578.33 207.33 580.00 207.98C581.67 208.63 583.33 209.27 585.00 209.90C586.67 210.53 588.33 211.15 590.00 211.77C591.67 212.39 593.33 212.99 595.00 213.59C596.67 214.19 598.33 214.78 600.00 215.35C601.67 215.91 603.33 216.46 605.00 216.99C606.67 217.52 608.33 218.04 610.00 218.51C611.67 218.99 613.33 219.40 615.00 219.83C616.67 220.25 618.33 220.66 620.00 221.07C621.67 221.48 623.33 221.89 625.00 222.30C626.67 222.71 628.33 223.13 630.00 223.52C631.67 223.91 633.33 224.30 635.00 224.66C636.67 225.03 638.33 225.38 640.00 225.73C641.67 226.08 643.33 226.43 645.00 226.78C646.67 227.13 648.33 227.48 650.00 227.82C651.67 228.17 653.33 228.53 655.00 228.86C656.67 229.18 658.33 229.50 660.00 229.78C661.67 230.07 663.33 230.31 665.00 230.57C666.67 230.83 668.33 231.09 670.00 231.34C671.67 231.60 673.33 231.85 675.00 232.11C676.67 232.36 678.33 232.61 680.00 232.86C681.67 233.11 683.33 233.36 685.00 233.61C686.67 233.86 688.33 234.10 690.00 234.35C691.67 234.61 693.33 234.86 695.00 235.15C696.67 235.43 698.33 235.75 700.00 236.07C701.67 236.39 703.33 236.73 705.00 237.07C706.67 237.41 708.33 237.73 710.00 238.08C711.67 238.44 713.33 238.79 715.00 239.20C716.67 239.61 718.33 240.07 720.00 240.53C721.67 240.98 723.33 241.46 725.00 241.93C726.67 242.40 728.33 242.86 730.00 243.35C731.67 243.83 733.33 244.26 735.00 244.85C736.67 245.44 738.33 246.10 740.00 246.88C741.67 247.66 743.33 248.64 745.00 249.55C746.67 250.45 748.33 251.44 750.00 252.31C751.67 253.19 753.33 254.02 755.00 254.79C756.67 255.55 758.33 256.26 760.00 256.91C761.67 257.55 763.33 258.18 765.00 258.65C766.67 259.12 768.33 259.42 770.00 259.73C771.67 260.04 773.33 260.25 775.00 260.50C776.67 260.75 778.33 261.02 780.00 261.24C781.67 261.46 783.33 261.69 785.00 261.83C786.67 261.97 788.33 262.03 790.00 262.09C791.67 262.15 793.33 262.17 795.00 262.21C796.67 262.25 798.33 262.28 800.00 262.31C801.67 262.35 803.50 262.39 805.00 262.42C806.50 262.45 808.33 262.49 809.00 262.50" fill="none" stroke="#009E73" stroke-width="1.70" stroke-linejoin="round" stroke-linecap="butt"/>
<path d="M490.00 171.01C490.83 171.41 493.33 172.60 495.00 173.39C496.67 174.19 498.33 174.99 500.00 175.80C501.67 176.60 503.33 177.41 505.00 178.22C506.67 179.04 508.33 179.86 510.00 180.69C511.67 181.52 513.33 182.36 515.00 183.21C516.67 184.06 518.33 184.92 520.00 185.79C521.67 186.65 523.33 187.53 525.00 188.41C526.67 189.28 528.33 190.17 530.00 191.04C531.67 191.91 533.33 192.78 535.00 193.62C536.67 194.46 538.33 195.29 540.00 196.09C541.67 196.90 543.33 197.68 545.00 198.44C546.67 199.20 548.33 199.93 550.00 200.65C551.67 201.38 553.33 202.09 555.00 202.79C556.67 203.49 558.33 204.18 560.00 204.87C561.67 205.55 563.33 206.23 565.00 206.91C566.67 207.58 568.33 208.25 570.00 208.93C571.67 209.60 573.33 210.27 575.00 210.93C576.67 211.60 578.33 212.27 580.00 212.94C581.67 213.61 583.33 214.28 585.00 214.95C586.67 215.62 588.33 216.32 590.00 216.95C591.67 217.58 593.33 218.18 595.00 218.75C596.67 219.31 598.33 219.83 600.00 220.33C601.67 220.84 603.33 221.30 605.00 221.76C606.67 222.22 608.33 222.65 610.00 223.08C611.67 223.52 613.33 223.95 615.00 224.39C616.67 224.82 618.33 225.26 620.00 225.69C621.67 226.12 623.33 226.56 625.00 226.99C626.67 227.43 628.33 227.86 630.00 228.31C631.67 228.75 633.33 229.20 635.00 229.67C636.67 230.13 638.33 230.61 640.00 231.08C641.67 231.55 643.33 232.03 645.00 232.50C646.67 232.97 648.33 233.45 650.00 233.92C651.67 234.39 653.33 234.89 655.00 235.32C656.67 235.76 658.33 236.17 660.00 236.54C661.67 236.91 663.33 237.21 665.00 237.53C666.67 237.86 668.33 238.17 670.00 238.49C671.67 238.80 673.33 239.12 675.00 239.43C676.67 239.74 678.33 240.05 680.00 240.36C681.67 240.66 683.33 240.96 685.00 241.26C686.67 241.57 688.33 241.86 690.00 242.17C691.67 242.48 693.33 242.78 695.00 243.12C696.67 243.45 698.33 243.80 700.00 244.16C701.67 244.52 703.33 244.90 705.00 245.27C706.67 245.64 708.33 245.99 710.00 246.39C711.67 246.80 713.33 247.20 715.00 247.69C716.67 248.19 718.33 248.79 720.00 249.37C721.67 249.95 723.33 250.57 725.00 251.18C726.67 251.78 728.33 252.39 730.00 252.99C731.67 253.60 733.33 254.21 735.00 254.79C736.67 255.37 738.33 255.93 740.00 256.47C741.67 257.01 743.33 257.51 745.00 258.01C746.67 258.51 748.33 259.03 750.00 259.46C751.67 259.89 753.33 260.28 755.00 260.59C756.67 260.90 758.33 261.12 760.00 261.32C761.67 261.53 763.33 261.72 765.00 261.84C766.67 261.96 768.33 262.00 770.00 262.05C771.67 262.09 773.33 262.09 775.00 262.11C776.67 262.13 778.33 262.15 780.00 262.17C781.67 262.19 783.33 262.21 785.00 262.23C786.67 262.25 788.33 262.27 790.00 262.28C791.67 262.30 793.33 262.32 795.00 262.34C796.67 262.36 798.33 262.38 800.00 262.40C801.67 262.42 803.50 262.44 805.00 262.45C806.50 262.47 808.33 262.49 809.00 262.50" fill="none" stroke="#F0E442" stroke-width="1.70" stroke-linejoin="round" stroke-linecap="butt"/></g>
<path d="M85.50 262.50 v-5.70 M85.50 32.50 v5.70M104.10 262.50 v-5.70 M104.10 32.50 v5.70M114.99 262.50 v-5.70 M114.99 32.50 v5.70M122.71 262.50 v-5.70 M122.71 32.50 v5.70M128.70 262.50 v-5.70 M128.70 32.50 v5.70M133.59 262.50 v-5.70 M133.59 32.50 v5.70M137.73 262.50 v-5.70 M137.73 32.50 v5.70M141.31 262.50 v-5.70 M141.31 32.50 v5.70M144.47 262.50 v-5.70 M144.47 32.50 v5.70M147.30 262.50 v-5.70 M147.30 32.50 v5.70M165.90 262.50 v-5.70 M165.90 32.50 v5.70M176.79 262.50 v-5.70 M176.79 32.50 v5.70M184.51 262.50 v-5.70 M184.51 32.50 v5.70M190.50 262.50 v-5.70 M190.50 32.50 v5.70M195.39 262.50 v-5.70 M195.39 32.50 v5.70M199.53 262.50 v-5.70 M199.53 32.50 v5.70M203.11 262.50 v-5.70 M203.11 32.50 v5.70M206.27 262.50 v-5.70 M206.27 32.50 v5.70M209.10 262.50 v-5.70 M209.10 32.50 v5.70M227.70 262.50 v-5.70 M227.70 32.50 v5.70M238.59 262.50 v-5.70 M238.59 32.50 v5.70M246.31 262.50 v-5.70 M246.31 32.50 v5.70M252.30 262.50 v-5.70 M252.30 32.50 v5.70M257.19 262.50 v-5.70 M257.19 32.50 v5.70M261.33 262.50 v-5.70 M261.33 32.50 v5.70M264.91 262.50 v-5.70 M264.91 32.50 v5.70M268.07 262.50 v-5.70 M268.07 32.50 v5.70M270.90 262.50 v-5.70 M270.90 32.50 v5.70M289.50 262.50 v-5.70 M289.50 32.50 v5.70M300.39 262.50 v-5.70 M300.39 32.50 v5.70M308.11 262.50 v-5.70 M308.11 32.50 v5.70M314.10 262.50 v-5.70 M314.10 32.50 v5.70M318.99 262.50 v-5.70 M318.99 32.50 v5.70M323.13 262.50 v-5.70 M323.13 32.50 v5.70M326.71 262.50 v-5.70 M326.71 32.50 v5.70M329.87 262.50 v-5.70 M329.87 32.50 v5.70M332.70 262.50 v-5.70 M332.70 32.50 v5.70M351.30 262.50 v-5.70 M351.30 32.50 v5.70M362.19 262.50 v-5.70 M362.19 32.50 v5.70M369.91 262.50 v-5.70 M369.91 32.50 v5.70M375.90 262.50 v-5.70 M375.90 32.50 v5.70M380.79 262.50 v-5.70 M380.79 32.50 v5.70M384.93 262.50 v-5.70 M384.93 32.50 v5.70M388.51 262.50 v-5.70 M388.51 32.50 v5.70M391.67 262.50 v-5.70 M391.67 32.50 v5.70M394.50 262.50 v-5.70 M394.50 32.50 v5.70M85.50 262.50 h5.70 M394.50 262.50 h-5.70M85.50 224.17 h5.70 M394.50 224.17 h-5.70M85.50 185.83 h5.70 M394.50 185.83 h-5.70M85.50 147.50 h5.70 M394.50 147.50 h-5.70M85.50 109.17 h5.70 M394.50 109.17 h-5.70M85.50 70.83 h5.70 M394.50 70.83 h-5.70M85.50 32.50 h5.70 M394.50 32.50 h-5.70" stroke="#333" stroke-width="0.8" fill="none"/>
<rect x="85.50" y="32.50" width="309.00" height="230.00" fill="none" stroke="#000" stroke-width="0.95"/>
<path d="M499.50 262.50 v-5.70 M499.50 32.50 v5.70M518.10 262.50 v-5.70 M518.10 32.50 v5.70M528.99 262.50 v-5.70 M528.99 32.50 v5.70M536.71 262.50 v-5.70 M536.71 32.50 v5.70M542.70 262.50 v-5.70 M542.70 32.50 v5.70M547.59 262.50 v-5.70 M547.59 32.50 v5.70M551.73 262.50 v-5.70 M551.73 32.50 v5.70M555.31 262.50 v-5.70 M555.31 32.50 v5.70M558.47 262.50 v-5.70 M558.47 32.50 v5.70M561.30 262.50 v-5.70 M561.30 32.50 v5.70M579.90 262.50 v-5.70 M579.90 32.50 v5.70M590.79 262.50 v-5.70 M590.79 32.50 v5.70M598.51 262.50 v-5.70 M598.51 32.50 v5.70M604.50 262.50 v-5.70 M604.50 32.50 v5.70M609.39 262.50 v-5.70 M609.39 32.50 v5.70M613.53 262.50 v-5.70 M613.53 32.50 v5.70M617.11 262.50 v-5.70 M617.11 32.50 v5.70M620.27 262.50 v-5.70 M620.27 32.50 v5.70M623.10 262.50 v-5.70 M623.10 32.50 v5.70M641.70 262.50 v-5.70 M641.70 32.50 v5.70M652.59 262.50 v-5.70 M652.59 32.50 v5.70M660.31 262.50 v-5.70 M660.31 32.50 v5.70M666.30 262.50 v-5.70 M666.30 32.50 v5.70M671.19 262.50 v-5.70 M671.19 32.50 v5.70M675.33 262.50 v-5.70 M675.33 32.50 v5.70M678.91 262.50 v-5.70 M678.91 32.50 v5.70M682.07 262.50 v-5.70 M682.07 32.50 v5.70M684.90 262.50 v-5.70 M684.90 32.50 v5.70M703.50 262.50 v-5.70 M703.50 32.50 v5.70M714.39 262.50 v-5.70 M714.39 32.50 v5.70M722.11 262.50 v-5.70 M722.11 32.50 v5.70M728.10 262.50 v-5.70 M728.10 32.50 v5.70M732.99 262.50 v-5.70 M732.99 32.50 v5.70M737.13 262.50 v-5.70 M737.13 32.50 v5.70M740.71 262.50 v-5.70 M740.71 32.50 v5.70M743.87 262.50 v-5.70 M743.87 32.50 v5.70M746.70 262.50 v-5.70 M746.70 32.50 v5.70M765.30 262.50 v-5.70 M765.30 32.50 v5.70M776.19 262.50 v-5.70 M776.19 32.50 v5.70M783.91 262.50 v-5.70 M783.91 32.50 v5.70M789.90 262.50 v-5.70 M789.90 32.50 v5.70M794.79 262.50 v-5.70 M794.79 32.50 v5.70M798.93 262.50 v-5.70 M798.93 32.50 v5.70M802.51 262.50 v-5.70 M802.51 32.50 v5.70M805.67 262.50 v-5.70 M805.67 32.50 v5.70M808.50 262.50 v-5.70 M808.50 32.50 v5.70M499.50 262.50 h5.70 M808.50 262.50 h-5.70M499.50 224.17 h5.70 M808.50 224.17 h-5.70M499.50 185.83 h5.70 M808.50 185.83 h-5.70M499.50 147.50 h5.70 M808.50 147.50 h-5.70M499.50 109.17 h5.70 M808.50 109.17 h-5.70M499.50 70.83 h5.70 M808.50 70.83 h-5.70M499.50 32.50 h5.70 M808.50 32.50 h-5.70" stroke="#333" stroke-width="0.8" fill="none"/>
<rect x="499.50" y="32.50" width="309.00" height="230.00" fill="none" stroke="#000" stroke-width="0.95"/>
<g class="thin">
<text transform="translate(78.30,269.40) scale(1.170,1)" text-anchor="end" font-size="20.0">0</text>
<text transform="translate(78.30,231.07) scale(1.170,1)" text-anchor="end" font-size="20.0">0.2</text>
<text transform="translate(78.30,192.73) scale(1.170,1)" text-anchor="end" font-size="20.0">0.4</text>
<text transform="translate(78.30,154.40) scale(1.170,1)" text-anchor="end" font-size="20.0">0.6</text>
<text transform="translate(78.30,116.07) scale(1.170,1)" text-anchor="end" font-size="20.0">0.8</text>
<text transform="translate(78.30,77.73) scale(1.170,1)" text-anchor="end" font-size="20.0">1</text>
<text transform="translate(78.30,39.40) scale(1.170,1)" text-anchor="end" font-size="20.0">1.2</text>
<text transform="translate(64.01,288.20) scale(1.056,1.000)" font-size="20.0">10</text>
<path d="M86.40 276.9H96.10" stroke="#000" stroke-width="0.85" fill="none"/>
<text transform="translate(96.02,280.40) scale(1.395,1.000)" font-size="14.0" style="stroke-width:0.12px">5</text>
<text transform="translate(125.81,288.20) scale(1.056,1.000)" font-size="20.0">10</text>
<path d="M148.20 276.9H157.90" stroke="#000" stroke-width="0.85" fill="none"/>
<text transform="translate(158.63,280.40) scale(1.220,1.000)" font-size="14.0" style="stroke-width:0.12px">4</text>
<text transform="translate(187.61,288.20) scale(1.056,1.000)" font-size="20.0">10</text>
<path d="M210.00 276.9H219.70" stroke="#000" stroke-width="0.85" fill="none"/>
<text transform="translate(219.84,280.40) scale(1.362,1.000)" font-size="14.0" style="stroke-width:0.12px">3</text>
<text transform="translate(249.41,288.20) scale(1.056,1.000)" font-size="20.0">10</text>
<path d="M271.80 276.9H281.50" stroke="#000" stroke-width="0.85" fill="none"/>
<text transform="translate(281.60,280.40) scale(1.429,1.000)" font-size="14.0" style="stroke-width:0.12px">2</text>
<text transform="translate(311.21,288.20) scale(1.056,1.000)" font-size="20.0">10</text>
<path d="M333.60 276.9H343.30" stroke="#000" stroke-width="0.85" fill="none"/>
<text transform="translate(342.38,280.40) scale(1.627,1.000)" font-size="14.0" style="stroke-width:0.12px">1</text>
<text transform="translate(389.94,288.20) scale(0.972,1.000)" font-size="20.0">1</text>
<text transform="translate(492.30,269.40) scale(1.170,1)" text-anchor="end" font-size="20.0">0</text>
<text transform="translate(492.30,231.07) scale(1.170,1)" text-anchor="end" font-size="20.0">0.2</text>
<text transform="translate(492.30,192.73) scale(1.170,1)" text-anchor="end" font-size="20.0">0.4</text>
<text transform="translate(492.30,154.40) scale(1.170,1)" text-anchor="end" font-size="20.0">0.6</text>
<text transform="translate(492.30,116.07) scale(1.170,1)" text-anchor="end" font-size="20.0">0.8</text>
<text transform="translate(492.30,77.73) scale(1.170,1)" text-anchor="end" font-size="20.0">1</text>
<text transform="translate(492.30,39.40) scale(1.170,1)" text-anchor="end" font-size="20.0">1.2</text>
<text transform="translate(478.01,288.20) scale(1.056,1.000)" font-size="20.0">10</text>
<path d="M500.40 276.9H510.10" stroke="#000" stroke-width="0.85" fill="none"/>
<text transform="translate(510.02,280.40) scale(1.395,1.000)" font-size="14.0" style="stroke-width:0.12px">5</text>
<text transform="translate(539.81,288.20) scale(1.056,1.000)" font-size="20.0">10</text>
<path d="M562.20 276.9H571.90" stroke="#000" stroke-width="0.85" fill="none"/>
<text transform="translate(572.63,280.40) scale(1.220,1.000)" font-size="14.0" style="stroke-width:0.12px">4</text>
<text transform="translate(601.61,288.20) scale(1.056,1.000)" font-size="20.0">10</text>
<path d="M624.00 276.9H633.70" stroke="#000" stroke-width="0.85" fill="none"/>
<text transform="translate(633.84,280.40) scale(1.362,1.000)" font-size="14.0" style="stroke-width:0.12px">3</text>
<text transform="translate(663.41,288.20) scale(1.056,1.000)" font-size="20.0">10</text>
<path d="M685.80 276.9H695.50" stroke="#000" stroke-width="0.85" fill="none"/>
<text transform="translate(695.60,280.40) scale(1.429,1.000)" font-size="14.0" style="stroke-width:0.12px">2</text>
<text transform="translate(725.21,288.20) scale(1.056,1.000)" font-size="20.0">10</text>
<path d="M747.60 276.9H757.30" stroke="#000" stroke-width="0.85" fill="none"/>
<text transform="translate(756.38,280.40) scale(1.627,1.000)" font-size="14.0" style="stroke-width:0.12px">1</text>
<text transform="translate(803.94,288.20) scale(0.972,1.000)" font-size="20.0">1</text>
<text x="110" y="23.3" font-size="21.6" textLength="255.5" lengthAdjust="spacingAndGlyphs">CT18A NLO, 90% CL errors</text>
<text x="520" y="23.3" font-size="21.6" textLength="262.5" lengthAdjust="spacingAndGlyphs">EPPS21 NLO, 90% CL errors</text>
<text transform="translate(234.89,309.60) scale(1.182,1.000)" font-size="20.6" font-style="italic">x</text>
<text transform="translate(648.89,309.60) scale(1.182,1.000)" font-size="20.6" font-style="italic">x</text>
<text x="322.3" y="61.6" font-size="20.2" fill="#0000B2" textLength="55" lengthAdjust="spacingAndGlyphs">proton</text>
<text x="757.6" y="62.8" font-size="18.6" fill="#990000" textLength="33" lengthAdjust="spacingAndGlyphs">lead</text>
<text transform="translate(284.00,87.70) scale(0.998,1.000)" font-size="19.0" font-style="italic">g</text><path d="M294.60 92.30 L301.60 74.80" stroke="#000" stroke-width="0.95" fill="none"/><text transform="translate(302.95,88.10) scale(1.003,1.000)" font-size="19.0">5</text>
<text transform="translate(697.90,97.90) scale(0.998,1.000)" font-size="19.0" font-style="italic">g</text><path d="M708.50 102.50 L715.50 85.00" stroke="#000" stroke-width="0.95" fill="none"/><text transform="translate(716.85,98.30) scale(1.003,1.000)" font-size="19.0">5</text>
<text transform="translate(347.48,161.60) scale(1.265,0.920)" font-size="18.2" font-style="italic" fill="#0072B2">u</text>
<text transform="translate(351.32,189.70) scale(1.053,1.000)" font-size="18.2" font-style="italic" fill="#D55E00">d</text>
<text transform="translate(298.43,204.50) scale(1.053,1.000)" font-size="18.2" font-style="italic" fill="#CC79A7">d</text><path d="M302.6 189.5 H308.9" stroke="#CC79A7" stroke-width="0.8" fill="none"/>
<text transform="translate(314.88,218.80) scale(1.265,0.920)" font-size="18.2" font-style="italic" fill="#56B4E9">u</text><path d="M317.6 208.1 H324.5" stroke="#56B4E9" stroke-width="0.8" fill="none"/>
<text transform="translate(225.81,221.70) scale(1.036,1.000)" font-size="18.2" font-style="italic" fill="#009E73">s</text>
<text transform="translate(272.21,254.60) scale(1.072,1.000)" font-size="18.2" font-style="italic" fill="#F0E442">c</text>
<text transform="translate(749.18,180.50) scale(1.265,0.920)" font-size="18.2" font-style="italic" fill="#0072B2">u</text>
<text transform="translate(765.22,144.90) scale(1.053,1.000)" font-size="18.2" font-style="italic" fill="#D55E00">d</text>
<text transform="translate(711.72,209.70) scale(1.053,1.000)" font-size="18.2" font-style="italic" fill="#CC79A7">d</text><path d="M716.6 194.8 H722.6" stroke="#CC79A7" stroke-width="0.8" fill="none"/>
<text transform="translate(728.48,220.20) scale(1.265,0.920)" font-size="18.2" font-style="italic" fill="#56B4E9">u</text><path d="M731.1 210.3 H738.7" stroke="#56B4E9" stroke-width="0.8" fill="none"/>
<text transform="translate(599.21,249.50) scale(1.036,1.000)" font-size="18.2" font-style="italic" fill="#009E73">s</text>
<text transform="translate(686.01,255.40) scale(1.072,1.000)" font-size="18.2" font-style="italic" fill="#F0E442">c</text>
<g transform="translate(28.0,233.1) rotate(-90)"><text transform="translate(0.79,0.00) scale(1.192,1.000)" font-size="20.6" font-style="italic">x</text><text transform="translate(11.15,0.00) scale(1.200,1.080)" font-size="20.6" font-style="italic">f</text><text transform="translate(25.84,-11.60) scale(1.119,1.000)" font-size="14.0" font-style="italic" style="stroke-width:0.12px">p</text><text transform="translate(23.23,5.80) scale(1.536,1.000)" font-size="14.0" font-style="italic" style="stroke-width:0.12px">i</text><text transform="translate(36.38,0.00) scale(1.241,1.120)" font-size="20.6">(</text><text transform="translate(46.38,0.00) scale(1.171,1.000)" font-size="20.6" font-style="italic">x</text><text transform="translate(57.53,0.00) scale(1.092,1.000)" font-size="20.6">,</text><text transform="translate(71.36,0.00) scale(1.302,1.000)" font-size="20.6" font-style="italic">Q</text><text transform="translate(88.60,-8.90) scale(1.237,1.000)" font-size="14.2" style="stroke-width:0.12px">2</text><path d="M102.3 -8.7H116.7M102.3 -3.7H116.7" stroke="#000" stroke-width="0.85" fill="none"/><text transform="translate(121.06,0.00) scale(1.074,1.000)" font-size="20.3">10</text><text transform="translate(149.31,0.00) scale(0.947,1.000)" font-size="20.8">G</text><text transform="translate(164.80,0.00) scale(1.154,1.000)" font-size="20.3">e</text><text transform="translate(177.31,0.00) scale(0.928,1.000)" font-size="20.8">V</text><text transform="translate(193.60,-8.90) scale(1.237,1.000)" font-size="14.2" style="stroke-width:0.12px">2</text><text transform="translate(203.42,0.00) scale(1.270,1.120)" font-size="20.6">)</text></g>
<g transform="translate(438.4,233.6) rotate(-90)"><text transform="translate(-8.71,0.00) scale(1.192,1.000)" font-size="20.6" font-style="italic">x</text><text transform="translate(3.15,0.00) scale(1.200,1.080)" font-size="20.6" font-style="italic">f</text><text transform="translate(12.89,-6.00) scale(1.312,1.000)" font-size="15.6" style="stroke-width:0.12px">Pb</text><text transform="translate(10.52,7.40) scale(1.536,1.000)" font-size="14.0" font-style="italic" style="stroke-width:0.12px">i</text><text transform="translate(36.38,0.00) scale(1.241,1.120)" font-size="20.6">(</text><text transform="translate(46.38,0.00) scale(1.171,1.000)" font-size="20.6" font-style="italic">x</text><text transform="translate(57.53,0.00) scale(1.092,1.000)" font-size="20.6">,</text><text transform="translate(71.36,0.00) scale(1.302,1.000)" font-size="20.6" font-style="italic">Q</text><text transform="translate(88.60,-8.90) scale(1.237,1.000)" font-size="14.2" style="stroke-width:0.12px">2</text><path d="M102.3 -8.7H116.7M102.3 -3.7H116.7" stroke="#000" stroke-width="0.85" fill="none"/><text transform="translate(121.06,0.00) scale(1.074,1.000)" font-size="20.3">10</text><text transform="translate(149.31,0.00) scale(0.947,1.000)" font-size="20.8">G</text><text transform="translate(164.80,0.00) scale(1.154,1.000)" font-size="20.3">e</text><text transform="translate(177.31,0.00) scale(0.928,1.000)" font-size="20.8">V</text><text transform="translate(193.60,-8.90) scale(1.237,1.000)" font-size="14.2" style="stroke-width:0.12px">2</text><text transform="translate(203.42,0.00) scale(1.270,1.120)" font-size="20.6">)</text><path d="M-41.5 -4.1H-15.6" stroke="#000" stroke-width="0.85" fill="none"/><text transform="translate(-32.67,-7.00) scale(1.028,1.000)" font-size="15.4" style="stroke-width:0.12px">1</text><text transform="translate(-41.15,9.40) scale(1.063,1.000)" font-size="15.4" style="stroke-width:0.12px">208</text></g>
</g>
</svg>
</body></html>
